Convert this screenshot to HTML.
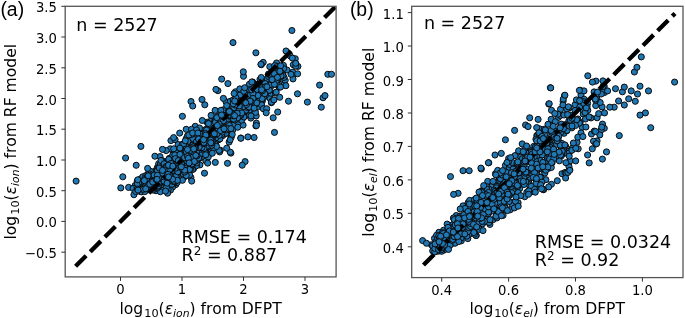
<!DOCTYPE html><html><head><meta charset="utf-8"><title>Figure</title><style>html,body{margin:0;padding:0;background:#fff}svg{display:block;will-change:transform}</style></head><body><svg width="685" height="318" viewBox="0 0 685 318">
<defs><clipPath id="ca"><rect x="65.2" y="6.3" width="270.9" height="270.6"/></clipPath><clipPath id="cb"><rect x="411.7" y="6.3" width="271.3" height="271.3"/></clipPath></defs>
<rect width="685" height="318" fill="#fff"/>
<g clip-path="url(#ca)" fill="#1f77b4" stroke="#0b0b0b" stroke-width="1.0">
<circle cx="243.0" cy="117.9" r="3.05"/>
<circle cx="193.5" cy="152.1" r="3.05"/>
<circle cx="197.6" cy="151.7" r="3.05"/>
<circle cx="166.2" cy="173.9" r="3.05"/>
<circle cx="185.3" cy="152.8" r="3.05"/>
<circle cx="193.1" cy="143.2" r="3.05"/>
<circle cx="202.7" cy="139.0" r="3.05"/>
<circle cx="176.9" cy="175.3" r="3.05"/>
<circle cx="156.1" cy="184.4" r="3.05"/>
<circle cx="189.3" cy="159.3" r="3.05"/>
<circle cx="219.2" cy="135.1" r="3.05"/>
<circle cx="162.8" cy="169.8" r="3.05"/>
<circle cx="198.0" cy="129.7" r="3.05"/>
<circle cx="175.5" cy="158.2" r="3.05"/>
<circle cx="168.8" cy="176.0" r="3.05"/>
<circle cx="155.7" cy="176.1" r="3.05"/>
<circle cx="155.8" cy="179.5" r="3.05"/>
<circle cx="200.3" cy="135.7" r="3.05"/>
<circle cx="216.1" cy="125.5" r="3.05"/>
<circle cx="173.2" cy="172.9" r="3.05"/>
<circle cx="165.8" cy="178.5" r="3.05"/>
<circle cx="161.8" cy="177.3" r="3.05"/>
<circle cx="211.6" cy="132.7" r="3.05"/>
<circle cx="195.4" cy="156.9" r="3.05"/>
<circle cx="175.4" cy="157.8" r="3.05"/>
<circle cx="205.5" cy="144.0" r="3.05"/>
<circle cx="192.7" cy="160.7" r="3.05"/>
<circle cx="191.2" cy="155.7" r="3.05"/>
<circle cx="169.4" cy="166.0" r="3.05"/>
<circle cx="144.0" cy="180.6" r="3.05"/>
<circle cx="185.6" cy="158.9" r="3.05"/>
<circle cx="196.7" cy="148.1" r="3.05"/>
<circle cx="176.5" cy="149.1" r="3.05"/>
<circle cx="154.8" cy="180.5" r="3.05"/>
<circle cx="211.6" cy="135.1" r="3.05"/>
<circle cx="222.9" cy="110.8" r="3.05"/>
<circle cx="192.0" cy="149.6" r="3.05"/>
<circle cx="213.8" cy="136.3" r="3.05"/>
<circle cx="133.9" cy="194.7" r="3.05"/>
<circle cx="137.9" cy="183.0" r="3.05"/>
<circle cx="198.0" cy="152.1" r="3.05"/>
<circle cx="179.2" cy="167.4" r="3.05"/>
<circle cx="156.7" cy="189.1" r="3.05"/>
<circle cx="155.5" cy="173.8" r="3.05"/>
<circle cx="255.3" cy="94.3" r="3.05"/>
<circle cx="203.7" cy="148.8" r="3.05"/>
<circle cx="191.0" cy="161.2" r="3.05"/>
<circle cx="183.5" cy="163.0" r="3.05"/>
<circle cx="170.7" cy="175.2" r="3.05"/>
<circle cx="204.3" cy="143.9" r="3.05"/>
<circle cx="207.4" cy="138.1" r="3.05"/>
<circle cx="193.0" cy="161.7" r="3.05"/>
<circle cx="210.0" cy="132.5" r="3.05"/>
<circle cx="158.0" cy="180.6" r="3.05"/>
<circle cx="173.0" cy="168.9" r="3.05"/>
<circle cx="212.9" cy="148.6" r="3.05"/>
<circle cx="209.2" cy="144.0" r="3.05"/>
<circle cx="238.1" cy="104.8" r="3.05"/>
<circle cx="180.6" cy="160.3" r="3.05"/>
<circle cx="190.1" cy="144.9" r="3.05"/>
<circle cx="143.8" cy="181.0" r="3.05"/>
<circle cx="205.6" cy="152.0" r="3.05"/>
<circle cx="270.0" cy="98.4" r="3.05"/>
<circle cx="255.6" cy="84.3" r="3.05"/>
<circle cx="246.9" cy="102.2" r="3.05"/>
<circle cx="159.3" cy="175.0" r="3.05"/>
<circle cx="178.3" cy="150.2" r="3.05"/>
<circle cx="179.1" cy="166.2" r="3.05"/>
<circle cx="223.0" cy="122.1" r="3.05"/>
<circle cx="240.3" cy="118.3" r="3.05"/>
<circle cx="194.5" cy="140.9" r="3.05"/>
<circle cx="274.5" cy="132.4" r="3.05"/>
<circle cx="161.5" cy="175.6" r="3.05"/>
<circle cx="234.4" cy="116.7" r="3.05"/>
<circle cx="168.3" cy="181.6" r="3.05"/>
<circle cx="214.3" cy="132.4" r="3.05"/>
<circle cx="209.8" cy="138.7" r="3.05"/>
<circle cx="183.1" cy="160.9" r="3.05"/>
<circle cx="199.1" cy="145.2" r="3.05"/>
<circle cx="173.2" cy="170.6" r="3.05"/>
<circle cx="239.7" cy="112.6" r="3.05"/>
<circle cx="265.3" cy="95.4" r="3.05"/>
<circle cx="182.2" cy="159.2" r="3.05"/>
<circle cx="157.6" cy="167.1" r="3.05"/>
<circle cx="161.7" cy="166.8" r="3.05"/>
<circle cx="181.2" cy="152.5" r="3.05"/>
<circle cx="179.0" cy="166.9" r="3.05"/>
<circle cx="272.2" cy="92.9" r="3.05"/>
<circle cx="162.3" cy="172.6" r="3.05"/>
<circle cx="175.2" cy="151.7" r="3.05"/>
<circle cx="177.8" cy="166.8" r="3.05"/>
<circle cx="199.7" cy="143.4" r="3.05"/>
<circle cx="153.2" cy="178.7" r="3.05"/>
<circle cx="297.9" cy="66.4" r="3.05"/>
<circle cx="176.4" cy="173.0" r="3.05"/>
<circle cx="277.6" cy="80.0" r="3.05"/>
<circle cx="158.4" cy="177.9" r="3.05"/>
<circle cx="213.1" cy="145.0" r="3.05"/>
<circle cx="213.0" cy="136.3" r="3.05"/>
<circle cx="248.0" cy="100.5" r="3.05"/>
<circle cx="231.2" cy="137.3" r="3.05"/>
<circle cx="176.3" cy="169.0" r="3.05"/>
<circle cx="188.9" cy="157.5" r="3.05"/>
<circle cx="171.7" cy="165.9" r="3.05"/>
<circle cx="212.0" cy="141.6" r="3.05"/>
<circle cx="193.3" cy="148.1" r="3.05"/>
<circle cx="281.2" cy="84.6" r="3.05"/>
<circle cx="207.3" cy="150.2" r="3.05"/>
<circle cx="323.0" cy="97.8" r="3.05"/>
<circle cx="175.5" cy="164.4" r="3.05"/>
<circle cx="154.4" cy="178.7" r="3.05"/>
<circle cx="175.8" cy="184.6" r="3.05"/>
<circle cx="76.1" cy="181.1" r="3.05"/>
<circle cx="137.3" cy="180.9" r="3.05"/>
<circle cx="153.9" cy="183.3" r="3.05"/>
<circle cx="140.5" cy="182.4" r="3.05"/>
<circle cx="170.4" cy="174.6" r="3.05"/>
<circle cx="223.9" cy="117.6" r="3.05"/>
<circle cx="154.1" cy="176.3" r="3.05"/>
<circle cx="175.1" cy="164.3" r="3.05"/>
<circle cx="184.1" cy="164.8" r="3.05"/>
<circle cx="180.7" cy="164.5" r="3.05"/>
<circle cx="203.2" cy="144.1" r="3.05"/>
<circle cx="185.6" cy="153.7" r="3.05"/>
<circle cx="283.4" cy="66.5" r="3.05"/>
<circle cx="189.4" cy="156.7" r="3.05"/>
<circle cx="327.8" cy="74.3" r="3.05"/>
<circle cx="218.6" cy="139.6" r="3.05"/>
<circle cx="167.8" cy="168.1" r="3.05"/>
<circle cx="173.4" cy="175.7" r="3.05"/>
<circle cx="225.4" cy="116.1" r="3.05"/>
<circle cx="260.3" cy="91.6" r="3.05"/>
<circle cx="166.1" cy="170.8" r="3.05"/>
<circle cx="243.3" cy="117.2" r="3.05"/>
<circle cx="270.8" cy="86.5" r="3.05"/>
<circle cx="179.8" cy="163.6" r="3.05"/>
<circle cx="165.7" cy="169.2" r="3.05"/>
<circle cx="162.5" cy="172.9" r="3.05"/>
<circle cx="231.4" cy="117.2" r="3.05"/>
<circle cx="204.3" cy="140.6" r="3.05"/>
<circle cx="237.7" cy="115.2" r="3.05"/>
<circle cx="140.8" cy="178.7" r="3.05"/>
<circle cx="173.5" cy="157.6" r="3.05"/>
<circle cx="256.2" cy="115.9" r="3.05"/>
<circle cx="181.7" cy="163.3" r="3.05"/>
<circle cx="214.2" cy="124.4" r="3.05"/>
<circle cx="234.6" cy="121.4" r="3.05"/>
<circle cx="230.7" cy="109.4" r="3.05"/>
<circle cx="168.4" cy="164.0" r="3.05"/>
<circle cx="232.6" cy="128.8" r="3.05"/>
<circle cx="237.3" cy="109.5" r="3.05"/>
<circle cx="186.3" cy="138.5" r="3.05"/>
<circle cx="187.3" cy="164.4" r="3.05"/>
<circle cx="226.0" cy="101.7" r="3.05"/>
<circle cx="174.1" cy="166.2" r="3.05"/>
<circle cx="169.6" cy="179.4" r="3.05"/>
<circle cx="177.4" cy="163.4" r="3.05"/>
<circle cx="198.5" cy="144.9" r="3.05"/>
<circle cx="233.5" cy="112.7" r="3.05"/>
<circle cx="141.3" cy="191.9" r="3.05"/>
<circle cx="177.3" cy="179.2" r="3.05"/>
<circle cx="272.2" cy="101.0" r="3.05"/>
<circle cx="208.8" cy="135.9" r="3.05"/>
<circle cx="177.7" cy="164.7" r="3.05"/>
<circle cx="252.7" cy="82.0" r="3.05"/>
<circle cx="215.6" cy="133.1" r="3.05"/>
<circle cx="128.6" cy="187.4" r="3.05"/>
<circle cx="217.9" cy="140.1" r="3.05"/>
<circle cx="169.1" cy="160.6" r="3.05"/>
<circle cx="159.8" cy="173.6" r="3.05"/>
<circle cx="156.0" cy="190.7" r="3.05"/>
<circle cx="221.2" cy="123.2" r="3.05"/>
<circle cx="279.2" cy="87.2" r="3.05"/>
<circle cx="182.8" cy="158.3" r="3.05"/>
<circle cx="262.0" cy="91.3" r="3.05"/>
<circle cx="172.9" cy="159.2" r="3.05"/>
<circle cx="164.1" cy="179.6" r="3.05"/>
<circle cx="195.4" cy="147.1" r="3.05"/>
<circle cx="216.2" cy="125.7" r="3.05"/>
<circle cx="214.7" cy="128.6" r="3.05"/>
<circle cx="167.9" cy="170.9" r="3.05"/>
<circle cx="163.5" cy="174.0" r="3.05"/>
<circle cx="163.9" cy="171.4" r="3.05"/>
<circle cx="203.3" cy="146.0" r="3.05"/>
<circle cx="162.3" cy="172.5" r="3.05"/>
<circle cx="185.0" cy="154.6" r="3.05"/>
<circle cx="186.4" cy="160.3" r="3.05"/>
<circle cx="186.2" cy="129.3" r="3.05"/>
<circle cx="206.4" cy="136.9" r="3.05"/>
<circle cx="168.1" cy="173.8" r="3.05"/>
<circle cx="288.5" cy="101.2" r="3.05"/>
<circle cx="224.6" cy="124.6" r="3.05"/>
<circle cx="170.9" cy="140.6" r="3.05"/>
<circle cx="153.8" cy="179.9" r="3.05"/>
<circle cx="176.0" cy="179.0" r="3.05"/>
<circle cx="179.4" cy="170.4" r="3.05"/>
<circle cx="171.0" cy="172.2" r="3.05"/>
<circle cx="183.3" cy="162.3" r="3.05"/>
<circle cx="225.3" cy="132.1" r="3.05"/>
<circle cx="221.1" cy="122.1" r="3.05"/>
<circle cx="148.6" cy="184.7" r="3.05"/>
<circle cx="175.7" cy="182.8" r="3.05"/>
<circle cx="159.1" cy="174.3" r="3.05"/>
<circle cx="196.9" cy="147.8" r="3.05"/>
<circle cx="229.4" cy="115.0" r="3.05"/>
<circle cx="181.0" cy="164.1" r="3.05"/>
<circle cx="155.6" cy="177.3" r="3.05"/>
<circle cx="229.8" cy="119.1" r="3.05"/>
<circle cx="199.9" cy="164.9" r="3.05"/>
<circle cx="184.2" cy="158.4" r="3.05"/>
<circle cx="248.2" cy="105.2" r="3.05"/>
<circle cx="237.3" cy="113.3" r="3.05"/>
<circle cx="207.7" cy="133.8" r="3.05"/>
<circle cx="226.3" cy="133.4" r="3.05"/>
<circle cx="207.5" cy="133.9" r="3.05"/>
<circle cx="166.9" cy="167.8" r="3.05"/>
<circle cx="166.3" cy="168.0" r="3.05"/>
<circle cx="122.8" cy="176.8" r="3.05"/>
<circle cx="212.4" cy="134.9" r="3.05"/>
<circle cx="247.3" cy="98.9" r="3.05"/>
<circle cx="206.5" cy="138.0" r="3.05"/>
<circle cx="174.9" cy="162.8" r="3.05"/>
<circle cx="199.6" cy="151.7" r="3.05"/>
<circle cx="210.1" cy="137.9" r="3.05"/>
<circle cx="198.4" cy="147.9" r="3.05"/>
<circle cx="172.3" cy="159.5" r="3.05"/>
<circle cx="167.6" cy="163.3" r="3.05"/>
<circle cx="187.0" cy="161.0" r="3.05"/>
<circle cx="189.6" cy="162.6" r="3.05"/>
<circle cx="220.7" cy="132.6" r="3.05"/>
<circle cx="198.0" cy="151.9" r="3.05"/>
<circle cx="235.8" cy="98.5" r="3.05"/>
<circle cx="211.1" cy="120.7" r="3.05"/>
<circle cx="175.4" cy="160.3" r="3.05"/>
<circle cx="206.8" cy="138.7" r="3.05"/>
<circle cx="252.9" cy="100.7" r="3.05"/>
<circle cx="169.3" cy="181.6" r="3.05"/>
<circle cx="179.1" cy="167.0" r="3.05"/>
<circle cx="239.0" cy="95.8" r="3.05"/>
<circle cx="227.5" cy="111.5" r="3.05"/>
<circle cx="181.9" cy="173.2" r="3.05"/>
<circle cx="154.9" cy="177.4" r="3.05"/>
<circle cx="204.8" cy="104.8" r="3.05"/>
<circle cx="182.8" cy="166.3" r="3.05"/>
<circle cx="174.3" cy="170.6" r="3.05"/>
<circle cx="181.1" cy="151.3" r="3.05"/>
<circle cx="135.1" cy="185.5" r="3.05"/>
<circle cx="210.9" cy="137.9" r="3.05"/>
<circle cx="144.0" cy="179.6" r="3.05"/>
<circle cx="164.1" cy="170.5" r="3.05"/>
<circle cx="171.1" cy="167.6" r="3.05"/>
<circle cx="198.5" cy="141.7" r="3.05"/>
<circle cx="233.4" cy="112.3" r="3.05"/>
<circle cx="174.4" cy="160.9" r="3.05"/>
<circle cx="250.4" cy="106.0" r="3.05"/>
<circle cx="138.4" cy="181.9" r="3.05"/>
<circle cx="220.3" cy="150.2" r="3.05"/>
<circle cx="190.0" cy="154.0" r="3.05"/>
<circle cx="205.8" cy="145.7" r="3.05"/>
<circle cx="186.7" cy="155.3" r="3.05"/>
<circle cx="169.7" cy="165.2" r="3.05"/>
<circle cx="158.0" cy="179.7" r="3.05"/>
<circle cx="266.2" cy="84.9" r="3.05"/>
<circle cx="213.0" cy="128.4" r="3.05"/>
<circle cx="254.0" cy="109.0" r="3.05"/>
<circle cx="209.1" cy="130.5" r="3.05"/>
<circle cx="162.9" cy="172.5" r="3.05"/>
<circle cx="192.7" cy="146.6" r="3.05"/>
<circle cx="169.8" cy="162.8" r="3.05"/>
<circle cx="270.1" cy="84.9" r="3.05"/>
<circle cx="172.6" cy="187.1" r="3.05"/>
<circle cx="230.2" cy="121.5" r="3.05"/>
<circle cx="165.1" cy="178.6" r="3.05"/>
<circle cx="251.2" cy="100.0" r="3.05"/>
<circle cx="277.7" cy="112.0" r="3.05"/>
<circle cx="192.8" cy="153.3" r="3.05"/>
<circle cx="169.9" cy="164.6" r="3.05"/>
<circle cx="234.8" cy="109.1" r="3.05"/>
<circle cx="180.4" cy="164.6" r="3.05"/>
<circle cx="204.8" cy="145.3" r="3.05"/>
<circle cx="151.7" cy="176.9" r="3.05"/>
<circle cx="180.7" cy="156.6" r="3.05"/>
<circle cx="188.0" cy="163.5" r="3.05"/>
<circle cx="215.3" cy="131.9" r="3.05"/>
<circle cx="236.1" cy="105.8" r="3.05"/>
<circle cx="204.0" cy="139.3" r="3.05"/>
<circle cx="242.9" cy="100.2" r="3.05"/>
<circle cx="150.6" cy="181.7" r="3.05"/>
<circle cx="292.9" cy="75.7" r="3.05"/>
<circle cx="169.2" cy="176.8" r="3.05"/>
<circle cx="197.8" cy="146.4" r="3.05"/>
<circle cx="184.6" cy="154.5" r="3.05"/>
<circle cx="169.5" cy="173.4" r="3.05"/>
<circle cx="184.7" cy="164.7" r="3.05"/>
<circle cx="180.2" cy="158.3" r="3.05"/>
<circle cx="161.8" cy="177.3" r="3.05"/>
<circle cx="187.5" cy="150.5" r="3.05"/>
<circle cx="203.6" cy="141.2" r="3.05"/>
<circle cx="214.7" cy="124.6" r="3.05"/>
<circle cx="191.2" cy="148.8" r="3.05"/>
<circle cx="293.0" cy="78.9" r="3.05"/>
<circle cx="157.4" cy="185.0" r="3.05"/>
<circle cx="214.7" cy="125.6" r="3.05"/>
<circle cx="172.2" cy="170.2" r="3.05"/>
<circle cx="215.0" cy="135.1" r="3.05"/>
<circle cx="243.0" cy="101.4" r="3.05"/>
<circle cx="177.1" cy="162.9" r="3.05"/>
<circle cx="184.2" cy="150.0" r="3.05"/>
<circle cx="282.7" cy="74.3" r="3.05"/>
<circle cx="210.0" cy="138.1" r="3.05"/>
<circle cx="209.2" cy="143.0" r="3.05"/>
<circle cx="178.5" cy="169.7" r="3.05"/>
<circle cx="202.8" cy="147.8" r="3.05"/>
<circle cx="139.5" cy="187.8" r="3.05"/>
<circle cx="210.8" cy="130.7" r="3.05"/>
<circle cx="233.4" cy="108.7" r="3.05"/>
<circle cx="180.1" cy="174.3" r="3.05"/>
<circle cx="173.2" cy="168.7" r="3.05"/>
<circle cx="202.0" cy="99.5" r="3.05"/>
<circle cx="227.4" cy="123.8" r="3.05"/>
<circle cx="186.0" cy="148.8" r="3.05"/>
<circle cx="226.3" cy="119.4" r="3.05"/>
<circle cx="184.8" cy="168.8" r="3.05"/>
<circle cx="192.9" cy="149.8" r="3.05"/>
<circle cx="156.5" cy="176.5" r="3.05"/>
<circle cx="232.6" cy="119.6" r="3.05"/>
<circle cx="178.0" cy="154.5" r="3.05"/>
<circle cx="265.1" cy="80.2" r="3.05"/>
<circle cx="193.4" cy="154.0" r="3.05"/>
<circle cx="247.5" cy="97.2" r="3.05"/>
<circle cx="219.4" cy="126.2" r="3.05"/>
<circle cx="198.3" cy="150.7" r="3.05"/>
<circle cx="150.4" cy="182.2" r="3.05"/>
<circle cx="155.9" cy="176.0" r="3.05"/>
<circle cx="172.6" cy="150.5" r="3.05"/>
<circle cx="184.4" cy="159.6" r="3.05"/>
<circle cx="149.3" cy="171.0" r="3.05"/>
<circle cx="164.5" cy="173.7" r="3.05"/>
<circle cx="163.8" cy="164.6" r="3.05"/>
<circle cx="164.7" cy="170.6" r="3.05"/>
<circle cx="234.3" cy="122.1" r="3.05"/>
<circle cx="276.6" cy="63.0" r="3.05"/>
<circle cx="185.3" cy="159.2" r="3.05"/>
<circle cx="218.6" cy="126.6" r="3.05"/>
<circle cx="175.1" cy="139.6" r="3.05"/>
<circle cx="182.0" cy="163.3" r="3.05"/>
<circle cx="252.9" cy="101.1" r="3.05"/>
<circle cx="270.9" cy="93.3" r="3.05"/>
<circle cx="179.0" cy="166.1" r="3.05"/>
<circle cx="219.3" cy="129.6" r="3.05"/>
<circle cx="198.5" cy="142.0" r="3.05"/>
<circle cx="243.1" cy="125.1" r="3.05"/>
<circle cx="160.0" cy="156.6" r="3.05"/>
<circle cx="164.6" cy="184.6" r="3.05"/>
<circle cx="152.9" cy="183.6" r="3.05"/>
<circle cx="220.7" cy="125.0" r="3.05"/>
<circle cx="161.4" cy="175.3" r="3.05"/>
<circle cx="239.0" cy="109.2" r="3.05"/>
<circle cx="152.2" cy="187.1" r="3.05"/>
<circle cx="201.2" cy="145.7" r="3.05"/>
<circle cx="139.3" cy="184.7" r="3.05"/>
<circle cx="189.8" cy="154.2" r="3.05"/>
<circle cx="208.6" cy="152.5" r="3.05"/>
<circle cx="177.8" cy="160.1" r="3.05"/>
<circle cx="164.4" cy="176.1" r="3.05"/>
<circle cx="235.2" cy="123.4" r="3.05"/>
<circle cx="192.2" cy="152.3" r="3.05"/>
<circle cx="253.4" cy="106.1" r="3.05"/>
<circle cx="205.0" cy="153.7" r="3.05"/>
<circle cx="183.9" cy="167.1" r="3.05"/>
<circle cx="207.0" cy="133.0" r="3.05"/>
<circle cx="170.7" cy="174.1" r="3.05"/>
<circle cx="174.2" cy="172.9" r="3.05"/>
<circle cx="238.4" cy="110.1" r="3.05"/>
<circle cx="201.7" cy="145.7" r="3.05"/>
<circle cx="251.8" cy="104.9" r="3.05"/>
<circle cx="180.6" cy="161.3" r="3.05"/>
<circle cx="184.5" cy="176.8" r="3.05"/>
<circle cx="243.0" cy="102.6" r="3.05"/>
<circle cx="183.0" cy="152.2" r="3.05"/>
<circle cx="264.4" cy="83.7" r="3.05"/>
<circle cx="185.1" cy="156.2" r="3.05"/>
<circle cx="204.7" cy="148.1" r="3.05"/>
<circle cx="197.5" cy="145.0" r="3.05"/>
<circle cx="215.0" cy="121.9" r="3.05"/>
<circle cx="173.1" cy="161.2" r="3.05"/>
<circle cx="151.9" cy="183.2" r="3.05"/>
<circle cx="211.5" cy="138.3" r="3.05"/>
<circle cx="161.2" cy="179.8" r="3.05"/>
<circle cx="271.4" cy="102.7" r="3.05"/>
<circle cx="183.0" cy="167.5" r="3.05"/>
<circle cx="226.6" cy="127.6" r="3.05"/>
<circle cx="234.5" cy="110.2" r="3.05"/>
<circle cx="188.5" cy="159.9" r="3.05"/>
<circle cx="188.2" cy="161.5" r="3.05"/>
<circle cx="160.8" cy="174.8" r="3.05"/>
<circle cx="193.5" cy="168.8" r="3.05"/>
<circle cx="202.9" cy="148.9" r="3.05"/>
<circle cx="232.1" cy="113.9" r="3.05"/>
<circle cx="161.1" cy="183.2" r="3.05"/>
<circle cx="284.0" cy="84.9" r="3.05"/>
<circle cx="165.6" cy="181.5" r="3.05"/>
<circle cx="232.6" cy="122.1" r="3.05"/>
<circle cx="190.9" cy="177.5" r="3.05"/>
<circle cx="177.5" cy="172.4" r="3.05"/>
<circle cx="190.2" cy="153.6" r="3.05"/>
<circle cx="146.5" cy="178.3" r="3.05"/>
<circle cx="157.9" cy="173.6" r="3.05"/>
<circle cx="234.0" cy="109.2" r="3.05"/>
<circle cx="159.0" cy="172.8" r="3.05"/>
<circle cx="179.3" cy="163.4" r="3.05"/>
<circle cx="233.7" cy="111.0" r="3.05"/>
<circle cx="176.3" cy="172.2" r="3.05"/>
<circle cx="195.2" cy="147.0" r="3.05"/>
<circle cx="236.3" cy="125.7" r="3.05"/>
<circle cx="176.5" cy="167.5" r="3.05"/>
<circle cx="192.7" cy="161.0" r="3.05"/>
<circle cx="166.7" cy="165.9" r="3.05"/>
<circle cx="152.5" cy="179.3" r="3.05"/>
<circle cx="204.5" cy="173.2" r="3.05"/>
<circle cx="163.7" cy="174.9" r="3.05"/>
<circle cx="263.2" cy="62.4" r="3.05"/>
<circle cx="215.1" cy="146.0" r="3.05"/>
<circle cx="214.9" cy="124.8" r="3.05"/>
<circle cx="207.8" cy="138.1" r="3.05"/>
<circle cx="197.6" cy="146.0" r="3.05"/>
<circle cx="174.1" cy="180.9" r="3.05"/>
<circle cx="196.4" cy="149.2" r="3.05"/>
<circle cx="182.2" cy="169.6" r="3.05"/>
<circle cx="191.8" cy="158.7" r="3.05"/>
<circle cx="175.0" cy="169.9" r="3.05"/>
<circle cx="250.8" cy="106.9" r="3.05"/>
<circle cx="225.4" cy="125.6" r="3.05"/>
<circle cx="183.3" cy="167.6" r="3.05"/>
<circle cx="203.9" cy="139.1" r="3.05"/>
<circle cx="160.5" cy="177.6" r="3.05"/>
<circle cx="169.4" cy="163.6" r="3.05"/>
<circle cx="207.3" cy="133.7" r="3.05"/>
<circle cx="210.0" cy="142.8" r="3.05"/>
<circle cx="211.0" cy="132.4" r="3.05"/>
<circle cx="254.5" cy="104.0" r="3.05"/>
<circle cx="179.9" cy="165.0" r="3.05"/>
<circle cx="217.6" cy="130.0" r="3.05"/>
<circle cx="189.8" cy="159.5" r="3.05"/>
<circle cx="188.5" cy="149.0" r="3.05"/>
<circle cx="179.5" cy="160.2" r="3.05"/>
<circle cx="321.3" cy="107.2" r="3.05"/>
<circle cx="175.7" cy="164.4" r="3.05"/>
<circle cx="184.9" cy="159.8" r="3.05"/>
<circle cx="169.6" cy="164.0" r="3.05"/>
<circle cx="231.4" cy="124.0" r="3.05"/>
<circle cx="184.9" cy="152.1" r="3.05"/>
<circle cx="192.5" cy="147.9" r="3.05"/>
<circle cx="190.0" cy="163.6" r="3.05"/>
<circle cx="196.0" cy="148.5" r="3.05"/>
<circle cx="175.3" cy="161.8" r="3.05"/>
<circle cx="182.4" cy="157.8" r="3.05"/>
<circle cx="175.3" cy="172.2" r="3.05"/>
<circle cx="171.6" cy="169.2" r="3.05"/>
<circle cx="226.7" cy="128.7" r="3.05"/>
<circle cx="227.2" cy="119.3" r="3.05"/>
<circle cx="219.4" cy="119.8" r="3.05"/>
<circle cx="173.4" cy="162.0" r="3.05"/>
<circle cx="262.3" cy="101.3" r="3.05"/>
<circle cx="240.9" cy="91.2" r="3.05"/>
<circle cx="263.6" cy="95.9" r="3.05"/>
<circle cx="158.4" cy="171.5" r="3.05"/>
<circle cx="225.1" cy="121.0" r="3.05"/>
<circle cx="173.6" cy="161.7" r="3.05"/>
<circle cx="163.1" cy="178.2" r="3.05"/>
<circle cx="244.0" cy="112.8" r="3.05"/>
<circle cx="187.9" cy="156.9" r="3.05"/>
<circle cx="285.2" cy="80.3" r="3.05"/>
<circle cx="178.9" cy="166.9" r="3.05"/>
<circle cx="176.2" cy="166.4" r="3.05"/>
<circle cx="227.6" cy="118.0" r="3.05"/>
<circle cx="175.4" cy="161.3" r="3.05"/>
<circle cx="157.7" cy="172.8" r="3.05"/>
<circle cx="158.4" cy="176.3" r="3.05"/>
<circle cx="205.9" cy="129.4" r="3.05"/>
<circle cx="210.7" cy="139.6" r="3.05"/>
<circle cx="158.1" cy="178.3" r="3.05"/>
<circle cx="158.0" cy="176.9" r="3.05"/>
<circle cx="252.5" cy="97.2" r="3.05"/>
<circle cx="174.7" cy="162.3" r="3.05"/>
<circle cx="191.9" cy="162.8" r="3.05"/>
<circle cx="192.7" cy="153.0" r="3.05"/>
<circle cx="183.9" cy="157.6" r="3.05"/>
<circle cx="152.1" cy="173.9" r="3.05"/>
<circle cx="239.5" cy="106.5" r="3.05"/>
<circle cx="197.8" cy="151.0" r="3.05"/>
<circle cx="152.5" cy="186.4" r="3.05"/>
<circle cx="185.3" cy="155.0" r="3.05"/>
<circle cx="173.5" cy="172.1" r="3.05"/>
<circle cx="167.1" cy="172.3" r="3.05"/>
<circle cx="190.7" cy="156.2" r="3.05"/>
<circle cx="181.3" cy="178.5" r="3.05"/>
<circle cx="179.7" cy="165.2" r="3.05"/>
<circle cx="191.5" cy="143.7" r="3.05"/>
<circle cx="191.9" cy="147.0" r="3.05"/>
<circle cx="164.0" cy="176.0" r="3.05"/>
<circle cx="169.0" cy="176.1" r="3.05"/>
<circle cx="162.2" cy="160.6" r="3.05"/>
<circle cx="256.1" cy="96.1" r="3.05"/>
<circle cx="292.7" cy="72.1" r="3.05"/>
<circle cx="167.2" cy="173.2" r="3.05"/>
<circle cx="226.4" cy="121.5" r="3.05"/>
<circle cx="232.2" cy="105.0" r="3.05"/>
<circle cx="290.2" cy="55.9" r="3.05"/>
<circle cx="155.2" cy="188.2" r="3.05"/>
<circle cx="297.5" cy="93.8" r="3.05"/>
<circle cx="226.4" cy="126.1" r="3.05"/>
<circle cx="174.9" cy="166.7" r="3.05"/>
<circle cx="268.9" cy="81.6" r="3.05"/>
<circle cx="201.8" cy="140.3" r="3.05"/>
<circle cx="196.5" cy="165.7" r="3.05"/>
<circle cx="150.6" cy="178.5" r="3.05"/>
<circle cx="185.0" cy="160.3" r="3.05"/>
<circle cx="173.6" cy="159.6" r="3.05"/>
<circle cx="267.2" cy="78.7" r="3.05"/>
<circle cx="165.7" cy="166.3" r="3.05"/>
<circle cx="223.6" cy="118.4" r="3.05"/>
<circle cx="213.1" cy="124.0" r="3.05"/>
<circle cx="193.8" cy="154.1" r="3.05"/>
<circle cx="144.8" cy="191.6" r="3.05"/>
<circle cx="205.9" cy="150.4" r="3.05"/>
<circle cx="152.5" cy="177.4" r="3.05"/>
<circle cx="183.4" cy="164.5" r="3.05"/>
<circle cx="158.0" cy="174.6" r="3.05"/>
<circle cx="197.1" cy="142.1" r="3.05"/>
<circle cx="185.4" cy="158.1" r="3.05"/>
<circle cx="281.4" cy="66.0" r="3.05"/>
<circle cx="181.0" cy="155.0" r="3.05"/>
<circle cx="209.6" cy="153.5" r="3.05"/>
<circle cx="211.1" cy="132.8" r="3.05"/>
<circle cx="197.9" cy="141.4" r="3.05"/>
<circle cx="156.0" cy="176.0" r="3.05"/>
<circle cx="163.6" cy="176.2" r="3.05"/>
<circle cx="179.8" cy="174.2" r="3.05"/>
<circle cx="206.7" cy="138.8" r="3.05"/>
<circle cx="191.0" cy="101.5" r="3.05"/>
<circle cx="263.6" cy="97.7" r="3.05"/>
<circle cx="192.7" cy="169.2" r="3.05"/>
<circle cx="235.5" cy="91.8" r="3.05"/>
<circle cx="209.7" cy="152.6" r="3.05"/>
<circle cx="171.5" cy="167.3" r="3.05"/>
<circle cx="199.1" cy="145.0" r="3.05"/>
<circle cx="215.9" cy="145.2" r="3.05"/>
<circle cx="161.8" cy="175.2" r="3.05"/>
<circle cx="195.3" cy="126.3" r="3.05"/>
<circle cx="189.6" cy="161.5" r="3.05"/>
<circle cx="189.0" cy="150.5" r="3.05"/>
<circle cx="192.2" cy="160.0" r="3.05"/>
<circle cx="195.6" cy="147.3" r="3.05"/>
<circle cx="160.6" cy="182.2" r="3.05"/>
<circle cx="225.1" cy="121.7" r="3.05"/>
<circle cx="216.3" cy="131.0" r="3.05"/>
<circle cx="195.1" cy="140.6" r="3.05"/>
<circle cx="235.8" cy="100.4" r="3.05"/>
<circle cx="150.3" cy="178.5" r="3.05"/>
<circle cx="168.6" cy="164.7" r="3.05"/>
<circle cx="173.9" cy="181.1" r="3.05"/>
<circle cx="193.3" cy="151.3" r="3.05"/>
<circle cx="229.3" cy="130.3" r="3.05"/>
<circle cx="210.8" cy="134.8" r="3.05"/>
<circle cx="165.8" cy="167.0" r="3.05"/>
<circle cx="162.7" cy="178.1" r="3.05"/>
<circle cx="152.8" cy="182.8" r="3.05"/>
<circle cx="192.9" cy="151.3" r="3.05"/>
<circle cx="234.0" cy="117.9" r="3.05"/>
<circle cx="228.3" cy="115.4" r="3.05"/>
<circle cx="189.0" cy="157.7" r="3.05"/>
<circle cx="160.4" cy="186.6" r="3.05"/>
<circle cx="192.3" cy="148.6" r="3.05"/>
<circle cx="190.2" cy="150.8" r="3.05"/>
<circle cx="206.2" cy="145.3" r="3.05"/>
<circle cx="169.0" cy="179.6" r="3.05"/>
<circle cx="258.7" cy="100.0" r="3.05"/>
<circle cx="191.1" cy="157.3" r="3.05"/>
<circle cx="188.9" cy="165.6" r="3.05"/>
<circle cx="283.4" cy="65.3" r="3.05"/>
<circle cx="200.2" cy="158.0" r="3.05"/>
<circle cx="171.0" cy="166.7" r="3.05"/>
<circle cx="173.6" cy="137.6" r="3.05"/>
<circle cx="208.2" cy="129.8" r="3.05"/>
<circle cx="162.0" cy="174.6" r="3.05"/>
<circle cx="189.6" cy="174.9" r="3.05"/>
<circle cx="198.9" cy="149.3" r="3.05"/>
<circle cx="160.9" cy="172.3" r="3.05"/>
<circle cx="250.8" cy="92.6" r="3.05"/>
<circle cx="183.3" cy="166.4" r="3.05"/>
<circle cx="170.4" cy="171.0" r="3.05"/>
<circle cx="236.5" cy="102.5" r="3.05"/>
<circle cx="186.3" cy="157.9" r="3.05"/>
<circle cx="196.7" cy="162.9" r="3.05"/>
<circle cx="189.0" cy="147.2" r="3.05"/>
<circle cx="231.8" cy="116.0" r="3.05"/>
<circle cx="147.0" cy="177.7" r="3.05"/>
<circle cx="160.0" cy="176.1" r="3.05"/>
<circle cx="156.6" cy="178.0" r="3.05"/>
<circle cx="261.7" cy="99.9" r="3.05"/>
<circle cx="155.4" cy="170.7" r="3.05"/>
<circle cx="156.9" cy="171.4" r="3.05"/>
<circle cx="182.5" cy="157.0" r="3.05"/>
<circle cx="254.4" cy="99.4" r="3.05"/>
<circle cx="189.2" cy="155.6" r="3.05"/>
<circle cx="191.7" cy="181.1" r="3.05"/>
<circle cx="143.5" cy="184.6" r="3.05"/>
<circle cx="208.6" cy="142.2" r="3.05"/>
<circle cx="186.9" cy="149.5" r="3.05"/>
<circle cx="145.2" cy="176.8" r="3.05"/>
<circle cx="149.4" cy="174.9" r="3.05"/>
<circle cx="219.1" cy="130.4" r="3.05"/>
<circle cx="278.8" cy="78.5" r="3.05"/>
<circle cx="235.8" cy="112.4" r="3.05"/>
<circle cx="169.6" cy="173.7" r="3.05"/>
<circle cx="211.2" cy="129.2" r="3.05"/>
<circle cx="185.7" cy="163.7" r="3.05"/>
<circle cx="158.7" cy="181.4" r="3.05"/>
<circle cx="162.6" cy="166.9" r="3.05"/>
<circle cx="200.9" cy="136.6" r="3.05"/>
<circle cx="192.0" cy="168.7" r="3.05"/>
<circle cx="226.4" cy="121.3" r="3.05"/>
<circle cx="120.8" cy="187.9" r="3.05"/>
<circle cx="216.8" cy="117.0" r="3.05"/>
<circle cx="257.2" cy="98.8" r="3.05"/>
<circle cx="170.3" cy="161.9" r="3.05"/>
<circle cx="157.3" cy="179.8" r="3.05"/>
<circle cx="183.8" cy="161.7" r="3.05"/>
<circle cx="145.0" cy="184.3" r="3.05"/>
<circle cx="207.6" cy="144.5" r="3.05"/>
<circle cx="170.3" cy="172.6" r="3.05"/>
<circle cx="216.6" cy="132.1" r="3.05"/>
<circle cx="263.7" cy="89.5" r="3.05"/>
<circle cx="227.9" cy="128.3" r="3.05"/>
<circle cx="171.0" cy="164.9" r="3.05"/>
<circle cx="185.9" cy="155.1" r="3.05"/>
<circle cx="171.2" cy="167.3" r="3.05"/>
<circle cx="331.5" cy="74.3" r="3.05"/>
<circle cx="162.2" cy="178.8" r="3.05"/>
<circle cx="238.4" cy="110.3" r="3.05"/>
<circle cx="257.5" cy="107.1" r="3.05"/>
<circle cx="217.0" cy="125.9" r="3.05"/>
<circle cx="217.9" cy="90.7" r="3.05"/>
<circle cx="156.7" cy="177.9" r="3.05"/>
<circle cx="157.1" cy="183.5" r="3.05"/>
<circle cx="169.1" cy="179.8" r="3.05"/>
<circle cx="151.7" cy="184.8" r="3.05"/>
<circle cx="245.5" cy="100.6" r="3.05"/>
<circle cx="177.0" cy="169.7" r="3.05"/>
<circle cx="156.8" cy="185.8" r="3.05"/>
<circle cx="180.0" cy="165.0" r="3.05"/>
<circle cx="247.3" cy="99.8" r="3.05"/>
<circle cx="195.8" cy="154.0" r="3.05"/>
<circle cx="168.2" cy="178.3" r="3.05"/>
<circle cx="159.9" cy="172.8" r="3.05"/>
<circle cx="200.1" cy="149.4" r="3.05"/>
<circle cx="174.2" cy="170.5" r="3.05"/>
<circle cx="275.5" cy="81.8" r="3.05"/>
<circle cx="164.3" cy="188.5" r="3.05"/>
<circle cx="183.0" cy="164.1" r="3.05"/>
<circle cx="233.0" cy="42.6" r="3.05"/>
<circle cx="163.7" cy="171.7" r="3.05"/>
<circle cx="183.5" cy="145.5" r="3.05"/>
<circle cx="157.8" cy="168.0" r="3.05"/>
<circle cx="159.9" cy="178.8" r="3.05"/>
<circle cx="248.0" cy="108.0" r="3.05"/>
<circle cx="148.5" cy="186.1" r="3.05"/>
<circle cx="175.9" cy="173.2" r="3.05"/>
<circle cx="210.8" cy="139.4" r="3.05"/>
<circle cx="167.3" cy="176.1" r="3.05"/>
<circle cx="153.0" cy="180.7" r="3.05"/>
<circle cx="164.9" cy="165.7" r="3.05"/>
<circle cx="179.3" cy="162.4" r="3.05"/>
<circle cx="192.7" cy="157.5" r="3.05"/>
<circle cx="140.0" cy="188.4" r="3.05"/>
<circle cx="140.9" cy="146.4" r="3.05"/>
<circle cx="137.2" cy="191.3" r="3.05"/>
<circle cx="213.2" cy="129.7" r="3.05"/>
<circle cx="177.8" cy="169.8" r="3.05"/>
<circle cx="153.9" cy="182.7" r="3.05"/>
<circle cx="279.1" cy="72.9" r="3.05"/>
<circle cx="214.7" cy="134.9" r="3.05"/>
<circle cx="189.6" cy="164.2" r="3.05"/>
<circle cx="222.0" cy="132.4" r="3.05"/>
<circle cx="192.0" cy="155.3" r="3.05"/>
<circle cx="202.1" cy="148.6" r="3.05"/>
<circle cx="251.9" cy="102.9" r="3.05"/>
<circle cx="202.9" cy="148.9" r="3.05"/>
<circle cx="211.8" cy="138.1" r="3.05"/>
<circle cx="250.0" cy="96.4" r="3.05"/>
<circle cx="214.1" cy="130.7" r="3.05"/>
<circle cx="248.4" cy="100.0" r="3.05"/>
<circle cx="254.1" cy="137.5" r="3.05"/>
<circle cx="218.1" cy="137.0" r="3.05"/>
<circle cx="275.3" cy="82.9" r="3.05"/>
<circle cx="239.6" cy="107.3" r="3.05"/>
<circle cx="240.9" cy="103.2" r="3.05"/>
<circle cx="202.6" cy="149.9" r="3.05"/>
<circle cx="227.6" cy="111.2" r="3.05"/>
<circle cx="263.4" cy="87.2" r="3.05"/>
<circle cx="168.0" cy="161.8" r="3.05"/>
<circle cx="218.5" cy="126.7" r="3.05"/>
<circle cx="249.0" cy="109.6" r="3.05"/>
<circle cx="229.1" cy="142.1" r="3.05"/>
<circle cx="211.1" cy="139.8" r="3.05"/>
<circle cx="246.1" cy="94.2" r="3.05"/>
<circle cx="230.7" cy="107.5" r="3.05"/>
<circle cx="245.1" cy="161.6" r="3.05"/>
<circle cx="242.2" cy="165.2" r="3.05"/>
<circle cx="204.0" cy="137.3" r="3.05"/>
<circle cx="150.8" cy="184.9" r="3.05"/>
<circle cx="195.8" cy="152.7" r="3.05"/>
<circle cx="175.7" cy="165.8" r="3.05"/>
<circle cx="183.4" cy="155.9" r="3.05"/>
<circle cx="215.1" cy="110.4" r="3.05"/>
<circle cx="174.7" cy="166.1" r="3.05"/>
<circle cx="162.6" cy="175.8" r="3.05"/>
<circle cx="178.2" cy="150.6" r="3.05"/>
<circle cx="238.9" cy="111.5" r="3.05"/>
<circle cx="249.1" cy="110.8" r="3.05"/>
<circle cx="161.9" cy="169.1" r="3.05"/>
<circle cx="165.1" cy="176.5" r="3.05"/>
<circle cx="166.5" cy="166.7" r="3.05"/>
<circle cx="217.0" cy="124.9" r="3.05"/>
<circle cx="183.9" cy="175.1" r="3.05"/>
<circle cx="151.5" cy="184.1" r="3.05"/>
<circle cx="268.5" cy="74.1" r="3.05"/>
<circle cx="216.7" cy="132.5" r="3.05"/>
<circle cx="182.5" cy="161.1" r="3.05"/>
<circle cx="205.0" cy="144.7" r="3.05"/>
<circle cx="166.7" cy="179.6" r="3.05"/>
<circle cx="157.1" cy="179.9" r="3.05"/>
<circle cx="213.1" cy="123.6" r="3.05"/>
<circle cx="172.5" cy="163.6" r="3.05"/>
<circle cx="137.0" cy="186.3" r="3.05"/>
<circle cx="163.1" cy="178.7" r="3.05"/>
<circle cx="188.6" cy="164.6" r="3.05"/>
<circle cx="205.8" cy="141.1" r="3.05"/>
<circle cx="181.6" cy="163.2" r="3.05"/>
<circle cx="176.2" cy="178.6" r="3.05"/>
<circle cx="213.7" cy="135.5" r="3.05"/>
<circle cx="197.3" cy="145.2" r="3.05"/>
<circle cx="185.3" cy="147.4" r="3.05"/>
<circle cx="211.0" cy="132.3" r="3.05"/>
<circle cx="161.7" cy="169.6" r="3.05"/>
<circle cx="169.6" cy="175.7" r="3.05"/>
<circle cx="200.5" cy="144.0" r="3.05"/>
<circle cx="179.4" cy="171.2" r="3.05"/>
<circle cx="186.2" cy="164.6" r="3.05"/>
<circle cx="177.2" cy="170.2" r="3.05"/>
<circle cx="233.4" cy="113.9" r="3.05"/>
<circle cx="177.7" cy="176.6" r="3.05"/>
<circle cx="139.5" cy="181.6" r="3.05"/>
<circle cx="164.8" cy="180.1" r="3.05"/>
<circle cx="179.2" cy="162.8" r="3.05"/>
<circle cx="169.4" cy="158.3" r="3.05"/>
<circle cx="179.0" cy="159.9" r="3.05"/>
<circle cx="211.2" cy="127.3" r="3.05"/>
<circle cx="147.8" cy="178.1" r="3.05"/>
<circle cx="187.2" cy="152.4" r="3.05"/>
<circle cx="209.4" cy="136.2" r="3.05"/>
<circle cx="236.9" cy="106.4" r="3.05"/>
<circle cx="184.3" cy="170.7" r="3.05"/>
<circle cx="182.9" cy="157.8" r="3.05"/>
<circle cx="194.6" cy="159.0" r="3.05"/>
<circle cx="155.9" cy="171.4" r="3.05"/>
<circle cx="216.2" cy="133.5" r="3.05"/>
<circle cx="162.5" cy="170.6" r="3.05"/>
<circle cx="233.5" cy="102.5" r="3.05"/>
<circle cx="184.4" cy="176.0" r="3.05"/>
<circle cx="169.0" cy="176.6" r="3.05"/>
<circle cx="163.3" cy="181.4" r="3.05"/>
<circle cx="188.5" cy="146.1" r="3.05"/>
<circle cx="163.1" cy="169.5" r="3.05"/>
<circle cx="242.2" cy="113.7" r="3.05"/>
<circle cx="191.1" cy="155.1" r="3.05"/>
<circle cx="257.4" cy="93.8" r="3.05"/>
<circle cx="167.6" cy="160.9" r="3.05"/>
<circle cx="222.3" cy="127.7" r="3.05"/>
<circle cx="221.6" cy="132.2" r="3.05"/>
<circle cx="221.3" cy="121.0" r="3.05"/>
<circle cx="210.5" cy="143.4" r="3.05"/>
<circle cx="178.7" cy="162.5" r="3.05"/>
<circle cx="193.8" cy="146.7" r="3.05"/>
<circle cx="206.7" cy="139.5" r="3.05"/>
<circle cx="138.3" cy="182.1" r="3.05"/>
<circle cx="149.9" cy="175.3" r="3.05"/>
<circle cx="190.9" cy="154.3" r="3.05"/>
<circle cx="157.6" cy="170.3" r="3.05"/>
<circle cx="188.2" cy="158.5" r="3.05"/>
<circle cx="202.1" cy="136.8" r="3.05"/>
<circle cx="177.5" cy="161.6" r="3.05"/>
<circle cx="161.7" cy="173.7" r="3.05"/>
<circle cx="202.7" cy="144.4" r="3.05"/>
<circle cx="169.9" cy="162.4" r="3.05"/>
<circle cx="183.6" cy="156.9" r="3.05"/>
<circle cx="205.7" cy="144.2" r="3.05"/>
<circle cx="178.9" cy="162.6" r="3.05"/>
<circle cx="167.0" cy="172.9" r="3.05"/>
<circle cx="162.8" cy="180.9" r="3.05"/>
<circle cx="238.7" cy="106.5" r="3.05"/>
<circle cx="220.8" cy="123.4" r="3.05"/>
<circle cx="156.9" cy="176.3" r="3.05"/>
<circle cx="226.4" cy="126.4" r="3.05"/>
<circle cx="178.2" cy="149.8" r="3.05"/>
<circle cx="153.4" cy="173.0" r="3.05"/>
<circle cx="154.3" cy="185.0" r="3.05"/>
<circle cx="245.9" cy="108.9" r="3.05"/>
<circle cx="219.9" cy="126.3" r="3.05"/>
<circle cx="284.1" cy="77.4" r="3.05"/>
<circle cx="235.5" cy="122.7" r="3.05"/>
<circle cx="237.8" cy="110.1" r="3.05"/>
<circle cx="197.2" cy="136.8" r="3.05"/>
<circle cx="150.2" cy="187.6" r="3.05"/>
<circle cx="182.4" cy="116.3" r="3.05"/>
<circle cx="276.2" cy="66.2" r="3.05"/>
<circle cx="170.8" cy="169.9" r="3.05"/>
<circle cx="223.8" cy="121.3" r="3.05"/>
<circle cx="151.1" cy="179.8" r="3.05"/>
<circle cx="176.7" cy="164.8" r="3.05"/>
<circle cx="208.4" cy="138.3" r="3.05"/>
<circle cx="150.1" cy="186.6" r="3.05"/>
<circle cx="159.8" cy="182.5" r="3.05"/>
<circle cx="163.1" cy="175.3" r="3.05"/>
<circle cx="195.2" cy="141.0" r="3.05"/>
<circle cx="192.1" cy="161.8" r="3.05"/>
<circle cx="209.9" cy="135.1" r="3.05"/>
<circle cx="291.9" cy="30.5" r="3.05"/>
<circle cx="194.7" cy="150.1" r="3.05"/>
<circle cx="269.6" cy="85.3" r="3.05"/>
<circle cx="161.7" cy="175.2" r="3.05"/>
<circle cx="224.3" cy="128.5" r="3.05"/>
<circle cx="192.9" cy="150.7" r="3.05"/>
<circle cx="242.5" cy="100.3" r="3.05"/>
<circle cx="176.1" cy="171.2" r="3.05"/>
<circle cx="238.5" cy="109.2" r="3.05"/>
<circle cx="158.8" cy="175.5" r="3.05"/>
<circle cx="232.1" cy="102.6" r="3.05"/>
<circle cx="275.9" cy="84.4" r="3.05"/>
<circle cx="175.4" cy="164.9" r="3.05"/>
<circle cx="212.1" cy="139.4" r="3.05"/>
<circle cx="236.6" cy="113.2" r="3.05"/>
<circle cx="226.4" cy="120.8" r="3.05"/>
<circle cx="255.9" cy="52.8" r="3.05"/>
<circle cx="176.8" cy="170.0" r="3.05"/>
<circle cx="204.9" cy="141.5" r="3.05"/>
<circle cx="258.8" cy="92.3" r="3.05"/>
<circle cx="189.8" cy="166.7" r="3.05"/>
<circle cx="174.2" cy="167.9" r="3.05"/>
<circle cx="201.1" cy="148.0" r="3.05"/>
<circle cx="159.3" cy="173.0" r="3.05"/>
<circle cx="161.2" cy="170.7" r="3.05"/>
<circle cx="194.1" cy="156.4" r="3.05"/>
<circle cx="222.8" cy="135.6" r="3.05"/>
<circle cx="192.5" cy="159.3" r="3.05"/>
<circle cx="153.0" cy="181.1" r="3.05"/>
<circle cx="240.6" cy="103.4" r="3.05"/>
<circle cx="218.8" cy="127.6" r="3.05"/>
<circle cx="150.6" cy="182.9" r="3.05"/>
<circle cx="154.9" cy="178.4" r="3.05"/>
<circle cx="174.2" cy="162.5" r="3.05"/>
<circle cx="212.7" cy="135.2" r="3.05"/>
<circle cx="165.0" cy="178.1" r="3.05"/>
<circle cx="287.0" cy="70.0" r="3.05"/>
<circle cx="175.3" cy="163.7" r="3.05"/>
<circle cx="222.9" cy="123.8" r="3.05"/>
<circle cx="183.6" cy="154.0" r="3.05"/>
<circle cx="256.4" cy="123.1" r="3.05"/>
<circle cx="153.0" cy="181.7" r="3.05"/>
<circle cx="248.4" cy="89.8" r="3.05"/>
<circle cx="192.4" cy="169.6" r="3.05"/>
<circle cx="187.7" cy="153.8" r="3.05"/>
<circle cx="177.4" cy="166.2" r="3.05"/>
<circle cx="189.5" cy="159.0" r="3.05"/>
<circle cx="180.7" cy="160.2" r="3.05"/>
<circle cx="189.7" cy="161.4" r="3.05"/>
<circle cx="171.6" cy="173.5" r="3.05"/>
<circle cx="176.0" cy="161.0" r="3.05"/>
<circle cx="149.7" cy="179.0" r="3.05"/>
<circle cx="207.6" cy="144.1" r="3.05"/>
<circle cx="178.2" cy="164.8" r="3.05"/>
<circle cx="207.1" cy="122.2" r="3.05"/>
<circle cx="241.2" cy="115.7" r="3.05"/>
<circle cx="207.8" cy="143.7" r="3.05"/>
<circle cx="162.6" cy="167.2" r="3.05"/>
<circle cx="160.3" cy="191.7" r="3.05"/>
<circle cx="260.0" cy="79.4" r="3.05"/>
<circle cx="268.7" cy="90.7" r="3.05"/>
<circle cx="170.5" cy="172.0" r="3.05"/>
<circle cx="202.5" cy="143.0" r="3.05"/>
<circle cx="228.8" cy="126.5" r="3.05"/>
<circle cx="194.0" cy="143.5" r="3.05"/>
<circle cx="174.7" cy="163.1" r="3.05"/>
<circle cx="278.9" cy="72.2" r="3.05"/>
<circle cx="161.4" cy="172.4" r="3.05"/>
<circle cx="189.2" cy="158.1" r="3.05"/>
<circle cx="191.3" cy="153.9" r="3.05"/>
<circle cx="174.1" cy="164.1" r="3.05"/>
<circle cx="192.7" cy="148.0" r="3.05"/>
<circle cx="192.2" cy="152.6" r="3.05"/>
<circle cx="164.7" cy="177.7" r="3.05"/>
<circle cx="168.9" cy="166.9" r="3.05"/>
<circle cx="237.1" cy="120.4" r="3.05"/>
<circle cx="215.4" cy="123.3" r="3.05"/>
<circle cx="212.2" cy="133.2" r="3.05"/>
<circle cx="220.0" cy="134.2" r="3.05"/>
<circle cx="193.2" cy="154.2" r="3.05"/>
<circle cx="175.3" cy="169.7" r="3.05"/>
<circle cx="213.7" cy="148.5" r="3.05"/>
<circle cx="248.1" cy="100.0" r="3.05"/>
<circle cx="165.8" cy="177.1" r="3.05"/>
<circle cx="229.5" cy="114.4" r="3.05"/>
<circle cx="197.0" cy="148.7" r="3.05"/>
<circle cx="232.4" cy="118.5" r="3.05"/>
<circle cx="185.3" cy="153.4" r="3.05"/>
<circle cx="201.8" cy="142.5" r="3.05"/>
<circle cx="214.5" cy="140.1" r="3.05"/>
<circle cx="201.1" cy="139.4" r="3.05"/>
<circle cx="160.5" cy="181.1" r="3.05"/>
<circle cx="169.1" cy="170.7" r="3.05"/>
<circle cx="234.7" cy="115.9" r="3.05"/>
<circle cx="157.4" cy="180.2" r="3.05"/>
<circle cx="227.9" cy="83.6" r="3.05"/>
<circle cx="170.5" cy="190.1" r="3.05"/>
<circle cx="200.3" cy="132.4" r="3.05"/>
<circle cx="228.8" cy="110.8" r="3.05"/>
<circle cx="173.3" cy="161.2" r="3.05"/>
<circle cx="170.9" cy="168.2" r="3.05"/>
<circle cx="169.3" cy="169.5" r="3.05"/>
<circle cx="156.2" cy="174.4" r="3.05"/>
<circle cx="185.5" cy="162.5" r="3.05"/>
<circle cx="153.6" cy="186.0" r="3.05"/>
<circle cx="168.5" cy="173.1" r="3.05"/>
<circle cx="249.4" cy="115.5" r="3.05"/>
<circle cx="161.0" cy="176.8" r="3.05"/>
<circle cx="271.5" cy="102.1" r="3.05"/>
<circle cx="151.1" cy="179.9" r="3.05"/>
<circle cx="189.8" cy="158.5" r="3.05"/>
<circle cx="186.8" cy="155.4" r="3.05"/>
<circle cx="148.3" cy="181.0" r="3.05"/>
<circle cx="179.8" cy="166.7" r="3.05"/>
<circle cx="219.6" cy="151.9" r="3.05"/>
<circle cx="181.1" cy="162.1" r="3.05"/>
<circle cx="180.2" cy="163.4" r="3.05"/>
<circle cx="208.6" cy="131.9" r="3.05"/>
<circle cx="178.3" cy="160.8" r="3.05"/>
<circle cx="189.8" cy="152.7" r="3.05"/>
<circle cx="209.2" cy="140.6" r="3.05"/>
<circle cx="151.8" cy="175.8" r="3.05"/>
<circle cx="187.1" cy="166.6" r="3.05"/>
<circle cx="165.5" cy="174.5" r="3.05"/>
<circle cx="242.6" cy="108.3" r="3.05"/>
<circle cx="260.0" cy="99.0" r="3.05"/>
<circle cx="186.9" cy="151.6" r="3.05"/>
<circle cx="200.6" cy="154.1" r="3.05"/>
<circle cx="190.1" cy="153.2" r="3.05"/>
<circle cx="221.4" cy="121.8" r="3.05"/>
<circle cx="175.1" cy="170.3" r="3.05"/>
<circle cx="168.4" cy="173.8" r="3.05"/>
<circle cx="261.5" cy="104.9" r="3.05"/>
<circle cx="176.0" cy="166.1" r="3.05"/>
<circle cx="167.9" cy="173.1" r="3.05"/>
<circle cx="208.1" cy="134.5" r="3.05"/>
<circle cx="175.5" cy="155.6" r="3.05"/>
<circle cx="192.1" cy="150.3" r="3.05"/>
<circle cx="196.1" cy="160.0" r="3.05"/>
<circle cx="233.0" cy="110.5" r="3.05"/>
<circle cx="170.8" cy="161.6" r="3.05"/>
<circle cx="169.3" cy="172.4" r="3.05"/>
<circle cx="169.3" cy="168.7" r="3.05"/>
<circle cx="171.5" cy="184.3" r="3.05"/>
<circle cx="189.3" cy="158.3" r="3.05"/>
<circle cx="187.2" cy="153.3" r="3.05"/>
<circle cx="187.4" cy="159.2" r="3.05"/>
<circle cx="168.6" cy="168.3" r="3.05"/>
<circle cx="170.3" cy="148.8" r="3.05"/>
<circle cx="242.0" cy="111.3" r="3.05"/>
<circle cx="170.4" cy="159.8" r="3.05"/>
<circle cx="189.4" cy="164.8" r="3.05"/>
<circle cx="170.7" cy="168.6" r="3.05"/>
<circle cx="218.6" cy="120.4" r="3.05"/>
<circle cx="248.2" cy="95.6" r="3.05"/>
<circle cx="152.2" cy="179.2" r="3.05"/>
<circle cx="164.7" cy="177.0" r="3.05"/>
<circle cx="149.3" cy="172.5" r="3.05"/>
<circle cx="221.8" cy="133.2" r="3.05"/>
<circle cx="157.5" cy="175.1" r="3.05"/>
<circle cx="141.1" cy="182.2" r="3.05"/>
<circle cx="173.0" cy="161.5" r="3.05"/>
<circle cx="182.5" cy="149.9" r="3.05"/>
<circle cx="179.5" cy="167.7" r="3.05"/>
<circle cx="160.6" cy="170.6" r="3.05"/>
<circle cx="211.4" cy="131.8" r="3.05"/>
<circle cx="200.2" cy="145.9" r="3.05"/>
<circle cx="158.1" cy="176.1" r="3.05"/>
<circle cx="217.4" cy="130.2" r="3.05"/>
<circle cx="184.9" cy="168.5" r="3.05"/>
<circle cx="205.9" cy="161.0" r="3.05"/>
<circle cx="238.6" cy="118.6" r="3.05"/>
<circle cx="194.7" cy="161.3" r="3.05"/>
<circle cx="197.7" cy="136.2" r="3.05"/>
<circle cx="190.7" cy="151.3" r="3.05"/>
<circle cx="137.3" cy="181.9" r="3.05"/>
<circle cx="173.4" cy="176.8" r="3.05"/>
<circle cx="211.9" cy="137.6" r="3.05"/>
<circle cx="163.4" cy="176.9" r="3.05"/>
<circle cx="162.7" cy="175.0" r="3.05"/>
<circle cx="164.2" cy="180.5" r="3.05"/>
<circle cx="223.9" cy="124.8" r="3.05"/>
<circle cx="215.0" cy="119.6" r="3.05"/>
<circle cx="196.8" cy="158.7" r="3.05"/>
<circle cx="162.5" cy="180.0" r="3.05"/>
<circle cx="178.1" cy="144.5" r="3.05"/>
<circle cx="147.6" cy="176.0" r="3.05"/>
<circle cx="215.9" cy="123.5" r="3.05"/>
<circle cx="168.5" cy="177.0" r="3.05"/>
<circle cx="156.4" cy="183.8" r="3.05"/>
<circle cx="202.3" cy="144.8" r="3.05"/>
<circle cx="245.7" cy="102.2" r="3.05"/>
<circle cx="247.7" cy="87.6" r="3.05"/>
<circle cx="184.8" cy="172.9" r="3.05"/>
<circle cx="160.0" cy="171.6" r="3.05"/>
<circle cx="175.7" cy="167.6" r="3.05"/>
<circle cx="262.5" cy="84.2" r="3.05"/>
<circle cx="195.5" cy="153.9" r="3.05"/>
<circle cx="157.7" cy="170.3" r="3.05"/>
<circle cx="208.2" cy="156.9" r="3.05"/>
<circle cx="243.5" cy="76.3" r="3.05"/>
<circle cx="201.2" cy="144.1" r="3.05"/>
<circle cx="208.3" cy="128.9" r="3.05"/>
<circle cx="199.2" cy="154.6" r="3.05"/>
<circle cx="175.0" cy="158.0" r="3.05"/>
<circle cx="210.9" cy="145.1" r="3.05"/>
<circle cx="159.2" cy="179.1" r="3.05"/>
<circle cx="268.7" cy="76.7" r="3.05"/>
<circle cx="230.8" cy="126.3" r="3.05"/>
<circle cx="186.4" cy="160.8" r="3.05"/>
<circle cx="139.9" cy="183.6" r="3.05"/>
<circle cx="188.7" cy="151.7" r="3.05"/>
<circle cx="179.7" cy="163.8" r="3.05"/>
<circle cx="214.4" cy="137.6" r="3.05"/>
<circle cx="154.1" cy="188.3" r="3.05"/>
<circle cx="170.6" cy="171.3" r="3.05"/>
<circle cx="218.4" cy="131.4" r="3.05"/>
<circle cx="133.1" cy="188.4" r="3.05"/>
<circle cx="144.8" cy="188.5" r="3.05"/>
<circle cx="145.4" cy="181.2" r="3.05"/>
<circle cx="184.4" cy="159.2" r="3.05"/>
<circle cx="271.5" cy="77.1" r="3.05"/>
<circle cx="253.9" cy="95.9" r="3.05"/>
<circle cx="153.8" cy="176.3" r="3.05"/>
<circle cx="233.5" cy="118.0" r="3.05"/>
<circle cx="230.5" cy="130.0" r="3.05"/>
<circle cx="265.5" cy="85.3" r="3.05"/>
<circle cx="166.3" cy="166.1" r="3.05"/>
<circle cx="246.5" cy="108.7" r="3.05"/>
<circle cx="209.6" cy="130.4" r="3.05"/>
<circle cx="191.7" cy="153.0" r="3.05"/>
<circle cx="221.1" cy="128.9" r="3.05"/>
<circle cx="256.2" cy="95.5" r="3.05"/>
<circle cx="235.3" cy="99.1" r="3.05"/>
<circle cx="162.0" cy="168.8" r="3.05"/>
<circle cx="159.1" cy="171.6" r="3.05"/>
<circle cx="216.4" cy="129.0" r="3.05"/>
<circle cx="200.3" cy="144.9" r="3.05"/>
<circle cx="201.7" cy="141.9" r="3.05"/>
<circle cx="153.7" cy="185.6" r="3.05"/>
<circle cx="241.7" cy="112.8" r="3.05"/>
<circle cx="232.9" cy="114.4" r="3.05"/>
<circle cx="182.6" cy="164.3" r="3.05"/>
<circle cx="234.2" cy="106.5" r="3.05"/>
<circle cx="224.9" cy="114.7" r="3.05"/>
<circle cx="220.5" cy="124.6" r="3.05"/>
<circle cx="262.4" cy="93.9" r="3.05"/>
<circle cx="167.3" cy="172.0" r="3.05"/>
<circle cx="172.7" cy="157.5" r="3.05"/>
<circle cx="220.5" cy="125.5" r="3.05"/>
<circle cx="167.8" cy="165.8" r="3.05"/>
<circle cx="166.3" cy="174.5" r="3.05"/>
<circle cx="215.9" cy="89.4" r="3.05"/>
<circle cx="189.3" cy="157.3" r="3.05"/>
<circle cx="237.9" cy="114.5" r="3.05"/>
<circle cx="216.8" cy="139.5" r="3.05"/>
<circle cx="162.3" cy="172.9" r="3.05"/>
<circle cx="221.7" cy="79.1" r="3.05"/>
<circle cx="194.4" cy="158.0" r="3.05"/>
<circle cx="179.7" cy="159.0" r="3.05"/>
<circle cx="194.6" cy="156.3" r="3.05"/>
<circle cx="155.2" cy="181.4" r="3.05"/>
<circle cx="165.9" cy="166.3" r="3.05"/>
<circle cx="166.1" cy="173.0" r="3.05"/>
<circle cx="182.7" cy="152.5" r="3.05"/>
<circle cx="170.2" cy="172.5" r="3.05"/>
<circle cx="249.4" cy="84.3" r="3.05"/>
<circle cx="191.9" cy="157.7" r="3.05"/>
<circle cx="276.8" cy="83.6" r="3.05"/>
<circle cx="172.8" cy="175.1" r="3.05"/>
<circle cx="201.3" cy="139.4" r="3.05"/>
<circle cx="205.4" cy="140.7" r="3.05"/>
<circle cx="212.4" cy="130.4" r="3.05"/>
<circle cx="208.0" cy="123.4" r="3.05"/>
<circle cx="209.9" cy="138.1" r="3.05"/>
<circle cx="232.8" cy="130.0" r="3.05"/>
<circle cx="248.9" cy="105.3" r="3.05"/>
<circle cx="200.7" cy="150.0" r="3.05"/>
<circle cx="168.5" cy="170.0" r="3.05"/>
<circle cx="186.3" cy="175.6" r="3.05"/>
<circle cx="209.0" cy="145.5" r="3.05"/>
<circle cx="215.2" cy="121.1" r="3.05"/>
<circle cx="176.6" cy="163.4" r="3.05"/>
<circle cx="150.7" cy="187.2" r="3.05"/>
<circle cx="165.1" cy="162.9" r="3.05"/>
<circle cx="159.2" cy="170.4" r="3.05"/>
<circle cx="201.2" cy="142.9" r="3.05"/>
<circle cx="230.1" cy="139.8" r="3.05"/>
<circle cx="160.2" cy="169.7" r="3.05"/>
<circle cx="143.0" cy="181.8" r="3.05"/>
<circle cx="237.1" cy="99.5" r="3.05"/>
<circle cx="297.6" cy="73.8" r="3.05"/>
<circle cx="211.8" cy="124.6" r="3.05"/>
<circle cx="211.2" cy="132.9" r="3.05"/>
<circle cx="196.5" cy="147.4" r="3.05"/>
<circle cx="182.8" cy="155.6" r="3.05"/>
<circle cx="174.5" cy="169.7" r="3.05"/>
<circle cx="285.9" cy="85.7" r="3.05"/>
<circle cx="145.4" cy="181.4" r="3.05"/>
<circle cx="201.7" cy="153.2" r="3.05"/>
<circle cx="176.6" cy="164.6" r="3.05"/>
<circle cx="135.7" cy="191.5" r="3.05"/>
<circle cx="171.0" cy="173.4" r="3.05"/>
<circle cx="295.3" cy="58.7" r="3.05"/>
<circle cx="183.5" cy="160.6" r="3.05"/>
<circle cx="222.5" cy="121.8" r="3.05"/>
<circle cx="172.4" cy="162.3" r="3.05"/>
<circle cx="237.6" cy="117.4" r="3.05"/>
<circle cx="169.9" cy="173.2" r="3.05"/>
<circle cx="188.6" cy="150.6" r="3.05"/>
<circle cx="187.9" cy="160.1" r="3.05"/>
<circle cx="219.4" cy="127.1" r="3.05"/>
<circle cx="207.9" cy="149.4" r="3.05"/>
<circle cx="204.6" cy="134.7" r="3.05"/>
<circle cx="210.3" cy="136.9" r="3.05"/>
<circle cx="205.3" cy="139.2" r="3.05"/>
<circle cx="155.3" cy="172.1" r="3.05"/>
<circle cx="231.5" cy="126.8" r="3.05"/>
<circle cx="180.7" cy="170.6" r="3.05"/>
<circle cx="153.3" cy="180.8" r="3.05"/>
<circle cx="146.1" cy="185.7" r="3.05"/>
<circle cx="140.2" cy="180.3" r="3.05"/>
<circle cx="202.4" cy="149.2" r="3.05"/>
<circle cx="153.2" cy="178.4" r="3.05"/>
<circle cx="176.7" cy="167.0" r="3.05"/>
<circle cx="212.6" cy="125.6" r="3.05"/>
<circle cx="163.5" cy="173.6" r="3.05"/>
<circle cx="210.1" cy="132.7" r="3.05"/>
<circle cx="166.4" cy="170.4" r="3.05"/>
<circle cx="189.8" cy="162.5" r="3.05"/>
<circle cx="185.7" cy="170.7" r="3.05"/>
<circle cx="190.0" cy="165.3" r="3.05"/>
<circle cx="177.2" cy="182.5" r="3.05"/>
<circle cx="184.4" cy="163.4" r="3.05"/>
<circle cx="190.5" cy="147.7" r="3.05"/>
<circle cx="283.6" cy="68.6" r="3.05"/>
<circle cx="173.1" cy="163.2" r="3.05"/>
<circle cx="151.9" cy="177.8" r="3.05"/>
<circle cx="254.3" cy="95.5" r="3.05"/>
<circle cx="218.9" cy="124.3" r="3.05"/>
<circle cx="181.5" cy="158.2" r="3.05"/>
<circle cx="273.3" cy="80.5" r="3.05"/>
<circle cx="158.0" cy="178.7" r="3.05"/>
<circle cx="197.3" cy="156.8" r="3.05"/>
<circle cx="224.5" cy="116.3" r="3.05"/>
<circle cx="175.5" cy="166.3" r="3.05"/>
<circle cx="245.1" cy="99.8" r="3.05"/>
<circle cx="230.9" cy="153.1" r="3.05"/>
<circle cx="199.5" cy="128.0" r="3.05"/>
<circle cx="159.2" cy="178.9" r="3.05"/>
<circle cx="182.2" cy="161.0" r="3.05"/>
<circle cx="291.0" cy="74.3" r="3.05"/>
<circle cx="196.3" cy="156.3" r="3.05"/>
<circle cx="242.9" cy="104.2" r="3.05"/>
<circle cx="254.4" cy="89.7" r="3.05"/>
<circle cx="241.4" cy="112.8" r="3.05"/>
<circle cx="149.6" cy="183.1" r="3.05"/>
<circle cx="195.8" cy="155.6" r="3.05"/>
<circle cx="148.7" cy="170.3" r="3.05"/>
<circle cx="265.6" cy="89.9" r="3.05"/>
<circle cx="211.3" cy="130.9" r="3.05"/>
<circle cx="136.2" cy="165.3" r="3.05"/>
<circle cx="186.5" cy="159.6" r="3.05"/>
<circle cx="156.1" cy="176.4" r="3.05"/>
<circle cx="251.8" cy="82.0" r="3.05"/>
<circle cx="177.3" cy="160.6" r="3.05"/>
<circle cx="238.6" cy="113.2" r="3.05"/>
<circle cx="160.8" cy="172.5" r="3.05"/>
<circle cx="223.3" cy="125.4" r="3.05"/>
<circle cx="231.4" cy="104.5" r="3.05"/>
<circle cx="180.7" cy="156.9" r="3.05"/>
<circle cx="154.3" cy="176.2" r="3.05"/>
<circle cx="154.7" cy="177.3" r="3.05"/>
<circle cx="181.2" cy="157.5" r="3.05"/>
<circle cx="181.3" cy="165.4" r="3.05"/>
<circle cx="158.9" cy="168.9" r="3.05"/>
<circle cx="156.3" cy="181.6" r="3.05"/>
<circle cx="237.8" cy="124.6" r="3.05"/>
<circle cx="238.3" cy="107.9" r="3.05"/>
<circle cx="174.5" cy="160.7" r="3.05"/>
<circle cx="149.2" cy="179.5" r="3.05"/>
<circle cx="157.8" cy="180.6" r="3.05"/>
<circle cx="176.7" cy="160.8" r="3.05"/>
<circle cx="196.2" cy="153.0" r="3.05"/>
<circle cx="174.9" cy="171.5" r="3.05"/>
<circle cx="219.6" cy="129.8" r="3.05"/>
<circle cx="243.2" cy="111.4" r="3.05"/>
<circle cx="219.4" cy="120.7" r="3.05"/>
<circle cx="177.5" cy="159.9" r="3.05"/>
<circle cx="183.9" cy="168.4" r="3.05"/>
<circle cx="175.0" cy="162.8" r="3.05"/>
<circle cx="219.9" cy="122.5" r="3.05"/>
<circle cx="261.3" cy="77.5" r="3.05"/>
<circle cx="177.4" cy="170.6" r="3.05"/>
<circle cx="258.9" cy="84.4" r="3.05"/>
<circle cx="186.1" cy="150.0" r="3.05"/>
<circle cx="156.6" cy="172.6" r="3.05"/>
<circle cx="219.5" cy="126.4" r="3.05"/>
<circle cx="151.3" cy="180.3" r="3.05"/>
<circle cx="174.8" cy="164.1" r="3.05"/>
<circle cx="202.0" cy="133.7" r="3.05"/>
<circle cx="180.8" cy="166.8" r="3.05"/>
<circle cx="254.8" cy="104.7" r="3.05"/>
<circle cx="156.2" cy="175.8" r="3.05"/>
<circle cx="166.9" cy="167.4" r="3.05"/>
<circle cx="212.9" cy="141.8" r="3.05"/>
<circle cx="269.8" cy="66.7" r="3.05"/>
<circle cx="173.1" cy="170.0" r="3.05"/>
<circle cx="227.3" cy="126.4" r="3.05"/>
<circle cx="145.4" cy="182.7" r="3.05"/>
<circle cx="325.0" cy="95.6" r="3.05"/>
<circle cx="215.2" cy="123.4" r="3.05"/>
<circle cx="209.1" cy="130.5" r="3.05"/>
<circle cx="273.2" cy="117.8" r="3.05"/>
<circle cx="265.1" cy="83.5" r="3.05"/>
<circle cx="221.9" cy="123.4" r="3.05"/>
<circle cx="154.7" cy="187.1" r="3.05"/>
<circle cx="168.3" cy="168.7" r="3.05"/>
<circle cx="158.0" cy="187.1" r="3.05"/>
<circle cx="171.8" cy="184.3" r="3.05"/>
<circle cx="168.4" cy="179.8" r="3.05"/>
<circle cx="153.1" cy="190.1" r="3.05"/>
<circle cx="209.5" cy="128.0" r="3.05"/>
<circle cx="172.0" cy="167.7" r="3.05"/>
<circle cx="176.5" cy="168.0" r="3.05"/>
<circle cx="210.7" cy="131.2" r="3.05"/>
<circle cx="170.5" cy="167.1" r="3.05"/>
<circle cx="169.3" cy="164.0" r="3.05"/>
<circle cx="164.2" cy="175.7" r="3.05"/>
<circle cx="211.3" cy="129.6" r="3.05"/>
<circle cx="238.1" cy="111.0" r="3.05"/>
<circle cx="217.1" cy="126.2" r="3.05"/>
<circle cx="207.7" cy="163.1" r="3.05"/>
<circle cx="165.3" cy="163.0" r="3.05"/>
<circle cx="219.5" cy="136.3" r="3.05"/>
<circle cx="258.3" cy="93.6" r="3.05"/>
<circle cx="169.3" cy="173.4" r="3.05"/>
<circle cx="211.5" cy="134.9" r="3.05"/>
<circle cx="183.4" cy="159.9" r="3.05"/>
<circle cx="255.9" cy="125.9" r="3.05"/>
<circle cx="165.0" cy="165.8" r="3.05"/>
<circle cx="186.4" cy="161.7" r="3.05"/>
<circle cx="155.4" cy="181.5" r="3.05"/>
<circle cx="156.0" cy="188.4" r="3.05"/>
<circle cx="167.0" cy="168.8" r="3.05"/>
<circle cx="173.2" cy="161.2" r="3.05"/>
<circle cx="239.4" cy="95.9" r="3.05"/>
<circle cx="193.9" cy="158.5" r="3.05"/>
<circle cx="155.2" cy="177.0" r="3.05"/>
<circle cx="216.3" cy="131.6" r="3.05"/>
<circle cx="262.2" cy="87.7" r="3.05"/>
<circle cx="206.2" cy="139.0" r="3.05"/>
<circle cx="223.0" cy="133.5" r="3.05"/>
<circle cx="163.5" cy="176.5" r="3.05"/>
<circle cx="241.6" cy="120.2" r="3.05"/>
<circle cx="181.6" cy="150.9" r="3.05"/>
<circle cx="162.1" cy="174.0" r="3.05"/>
<circle cx="174.4" cy="171.7" r="3.05"/>
<circle cx="165.1" cy="183.4" r="3.05"/>
<circle cx="201.8" cy="134.1" r="3.05"/>
<circle cx="187.5" cy="159.5" r="3.05"/>
<circle cx="172.4" cy="164.7" r="3.05"/>
<circle cx="187.4" cy="163.9" r="3.05"/>
<circle cx="166.1" cy="172.4" r="3.05"/>
<circle cx="245.6" cy="101.4" r="3.05"/>
<circle cx="198.3" cy="148.4" r="3.05"/>
<circle cx="246.0" cy="110.2" r="3.05"/>
<circle cx="157.1" cy="188.1" r="3.05"/>
<circle cx="230.2" cy="152.1" r="3.05"/>
<circle cx="192.4" cy="150.3" r="3.05"/>
<circle cx="237.3" cy="106.2" r="3.05"/>
<circle cx="142.8" cy="176.8" r="3.05"/>
<circle cx="152.7" cy="179.8" r="3.05"/>
<circle cx="207.1" cy="133.3" r="3.05"/>
<circle cx="293.3" cy="64.7" r="3.05"/>
<circle cx="220.1" cy="118.1" r="3.05"/>
<circle cx="183.7" cy="166.3" r="3.05"/>
<circle cx="183.4" cy="158.2" r="3.05"/>
<circle cx="202.6" cy="140.7" r="3.05"/>
<circle cx="190.7" cy="137.9" r="3.05"/>
<circle cx="152.5" cy="178.3" r="3.05"/>
<circle cx="125.6" cy="158.0" r="3.05"/>
<circle cx="136.9" cy="186.4" r="3.05"/>
<circle cx="280.5" cy="87.1" r="3.05"/>
<circle cx="250.8" cy="118.1" r="3.05"/>
<circle cx="218.0" cy="120.9" r="3.05"/>
<circle cx="171.4" cy="168.2" r="3.05"/>
<circle cx="187.3" cy="161.9" r="3.05"/>
<circle cx="168.9" cy="172.6" r="3.05"/>
<circle cx="194.7" cy="148.0" r="3.05"/>
<circle cx="154.5" cy="175.4" r="3.05"/>
<circle cx="184.1" cy="158.7" r="3.05"/>
<circle cx="162.6" cy="166.9" r="3.05"/>
<circle cx="255.5" cy="112.4" r="3.05"/>
<circle cx="223.1" cy="109.9" r="3.05"/>
<circle cx="219.1" cy="150.4" r="3.05"/>
<circle cx="273.9" cy="99.9" r="3.05"/>
<circle cx="191.6" cy="129.3" r="3.05"/>
<circle cx="247.7" cy="107.6" r="3.05"/>
<circle cx="195.8" cy="146.8" r="3.05"/>
<circle cx="180.4" cy="165.4" r="3.05"/>
<circle cx="231.8" cy="126.2" r="3.05"/>
<circle cx="158.7" cy="163.7" r="3.05"/>
<circle cx="205.0" cy="146.0" r="3.05"/>
<circle cx="170.4" cy="166.1" r="3.05"/>
<circle cx="167.9" cy="168.4" r="3.05"/>
<circle cx="208.2" cy="130.1" r="3.05"/>
<circle cx="176.0" cy="152.7" r="3.05"/>
<circle cx="138.0" cy="184.9" r="3.05"/>
<circle cx="171.7" cy="167.4" r="3.05"/>
<circle cx="202.8" cy="136.1" r="3.05"/>
<circle cx="161.1" cy="184.6" r="3.05"/>
<circle cx="205.0" cy="150.9" r="3.05"/>
<circle cx="189.7" cy="156.5" r="3.05"/>
<circle cx="179.8" cy="167.8" r="3.05"/>
<circle cx="225.7" cy="130.4" r="3.05"/>
<circle cx="230.3" cy="101.3" r="3.05"/>
<circle cx="192.5" cy="138.4" r="3.05"/>
<circle cx="177.0" cy="170.7" r="3.05"/>
<circle cx="162.9" cy="175.6" r="3.05"/>
<circle cx="233.7" cy="118.5" r="3.05"/>
<circle cx="244.9" cy="105.5" r="3.05"/>
<circle cx="217.0" cy="124.1" r="3.05"/>
<circle cx="238.6" cy="116.9" r="3.05"/>
<circle cx="212.3" cy="134.6" r="3.05"/>
<circle cx="215.8" cy="127.8" r="3.05"/>
<circle cx="196.5" cy="160.4" r="3.05"/>
<circle cx="192.6" cy="146.1" r="3.05"/>
<circle cx="200.5" cy="139.9" r="3.05"/>
<circle cx="243.9" cy="117.0" r="3.05"/>
<circle cx="203.3" cy="142.2" r="3.05"/>
<circle cx="198.0" cy="139.4" r="3.05"/>
<circle cx="190.4" cy="147.9" r="3.05"/>
<circle cx="173.1" cy="169.2" r="3.05"/>
<circle cx="198.4" cy="158.8" r="3.05"/>
<circle cx="181.1" cy="158.1" r="3.05"/>
<circle cx="206.6" cy="143.1" r="3.05"/>
<circle cx="205.7" cy="151.0" r="3.05"/>
<circle cx="279.0" cy="76.8" r="3.05"/>
<circle cx="173.4" cy="171.4" r="3.05"/>
<circle cx="180.7" cy="164.7" r="3.05"/>
<circle cx="222.7" cy="124.7" r="3.05"/>
<circle cx="196.1" cy="149.9" r="3.05"/>
<circle cx="190.5" cy="151.4" r="3.05"/>
<circle cx="157.2" cy="175.4" r="3.05"/>
<circle cx="292.3" cy="58.1" r="3.05"/>
<circle cx="241.1" cy="101.9" r="3.05"/>
<circle cx="182.0" cy="165.8" r="3.05"/>
<circle cx="228.7" cy="111.4" r="3.05"/>
<circle cx="187.9" cy="141.5" r="3.05"/>
<circle cx="278.2" cy="71.7" r="3.05"/>
<circle cx="183.3" cy="166.0" r="3.05"/>
<circle cx="272.6" cy="74.9" r="3.05"/>
<circle cx="190.5" cy="169.1" r="3.05"/>
<circle cx="193.7" cy="160.0" r="3.05"/>
<circle cx="166.3" cy="165.7" r="3.05"/>
<circle cx="208.4" cy="132.4" r="3.05"/>
<circle cx="216.6" cy="128.6" r="3.05"/>
<circle cx="178.9" cy="172.3" r="3.05"/>
<circle cx="183.7" cy="163.1" r="3.05"/>
<circle cx="170.6" cy="165.9" r="3.05"/>
<circle cx="218.9" cy="115.9" r="3.05"/>
<circle cx="197.8" cy="145.5" r="3.05"/>
<circle cx="182.4" cy="152.7" r="3.05"/>
<circle cx="212.8" cy="140.4" r="3.05"/>
<circle cx="145.8" cy="175.6" r="3.05"/>
<circle cx="199.0" cy="149.6" r="3.05"/>
<circle cx="176.9" cy="159.4" r="3.05"/>
<circle cx="230.2" cy="111.6" r="3.05"/>
<circle cx="168.0" cy="163.8" r="3.05"/>
<circle cx="207.6" cy="138.0" r="3.05"/>
<circle cx="210.3" cy="128.0" r="3.05"/>
<circle cx="221.1" cy="120.2" r="3.05"/>
<circle cx="170.9" cy="166.9" r="3.05"/>
<circle cx="146.6" cy="181.7" r="3.05"/>
<circle cx="166.3" cy="174.5" r="3.05"/>
<circle cx="187.5" cy="135.7" r="3.05"/>
<circle cx="227.8" cy="118.6" r="3.05"/>
<circle cx="177.2" cy="163.4" r="3.05"/>
<circle cx="192.6" cy="158.0" r="3.05"/>
<circle cx="176.9" cy="163.5" r="3.05"/>
<circle cx="160.3" cy="181.9" r="3.05"/>
<circle cx="228.2" cy="114.2" r="3.05"/>
<circle cx="152.0" cy="179.3" r="3.05"/>
<circle cx="137.4" cy="183.7" r="3.05"/>
<circle cx="208.1" cy="146.7" r="3.05"/>
<circle cx="203.7" cy="146.9" r="3.05"/>
<circle cx="204.7" cy="151.3" r="3.05"/>
<circle cx="240.7" cy="115.5" r="3.05"/>
<circle cx="182.8" cy="170.7" r="3.05"/>
<circle cx="160.7" cy="169.2" r="3.05"/>
<circle cx="185.5" cy="154.7" r="3.05"/>
<circle cx="201.5" cy="147.7" r="3.05"/>
<circle cx="212.8" cy="143.3" r="3.05"/>
<circle cx="172.3" cy="174.3" r="3.05"/>
<circle cx="186.0" cy="167.0" r="3.05"/>
<circle cx="253.8" cy="97.8" r="3.05"/>
<circle cx="225.8" cy="133.3" r="3.05"/>
<circle cx="212.4" cy="131.8" r="3.05"/>
<circle cx="261.3" cy="64.7" r="3.05"/>
<circle cx="206.5" cy="146.2" r="3.05"/>
<circle cx="186.6" cy="147.6" r="3.05"/>
<circle cx="188.8" cy="164.8" r="3.05"/>
<circle cx="160.4" cy="164.2" r="3.05"/>
<circle cx="164.0" cy="182.4" r="3.05"/>
<circle cx="163.0" cy="172.6" r="3.05"/>
<circle cx="211.7" cy="135.3" r="3.05"/>
<circle cx="199.1" cy="138.3" r="3.05"/>
<circle cx="168.4" cy="168.8" r="3.05"/>
<circle cx="229.5" cy="125.2" r="3.05"/>
<circle cx="247.9" cy="136.9" r="3.05"/>
<circle cx="175.8" cy="171.1" r="3.05"/>
<circle cx="142.3" cy="182.2" r="3.05"/>
<circle cx="208.9" cy="136.5" r="3.05"/>
<circle cx="192.0" cy="149.9" r="3.05"/>
<circle cx="177.4" cy="161.8" r="3.05"/>
<circle cx="171.3" cy="162.0" r="3.05"/>
<circle cx="168.2" cy="189.7" r="3.05"/>
<circle cx="154.1" cy="178.4" r="3.05"/>
<circle cx="190.7" cy="160.7" r="3.05"/>
<circle cx="184.8" cy="162.6" r="3.05"/>
<circle cx="178.2" cy="156.9" r="3.05"/>
<circle cx="200.1" cy="142.9" r="3.05"/>
<circle cx="230.2" cy="112.9" r="3.05"/>
<circle cx="269.3" cy="90.2" r="3.05"/>
<circle cx="161.0" cy="160.5" r="3.05"/>
<circle cx="188.8" cy="155.0" r="3.05"/>
<circle cx="173.4" cy="167.0" r="3.05"/>
<circle cx="262.1" cy="98.6" r="3.05"/>
<circle cx="174.3" cy="170.6" r="3.05"/>
<circle cx="211.1" cy="125.4" r="3.05"/>
<circle cx="145.1" cy="179.0" r="3.05"/>
<circle cx="233.1" cy="124.8" r="3.05"/>
<circle cx="166.6" cy="163.0" r="3.05"/>
<circle cx="157.9" cy="175.6" r="3.05"/>
<circle cx="179.7" cy="162.7" r="3.05"/>
<circle cx="185.3" cy="145.6" r="3.05"/>
<circle cx="191.0" cy="134.8" r="3.05"/>
<circle cx="214.1" cy="142.5" r="3.05"/>
<circle cx="252.5" cy="106.8" r="3.05"/>
<circle cx="153.2" cy="177.7" r="3.05"/>
<circle cx="153.3" cy="182.1" r="3.05"/>
<circle cx="165.4" cy="163.7" r="3.05"/>
<circle cx="145.1" cy="187.1" r="3.05"/>
<circle cx="153.5" cy="181.8" r="3.05"/>
<circle cx="175.8" cy="175.0" r="3.05"/>
<circle cx="212.3" cy="153.2" r="3.05"/>
<circle cx="181.7" cy="162.9" r="3.05"/>
<circle cx="159.4" cy="178.8" r="3.05"/>
<circle cx="146.3" cy="183.8" r="3.05"/>
<circle cx="169.5" cy="178.3" r="3.05"/>
<circle cx="150.6" cy="187.6" r="3.05"/>
<circle cx="200.7" cy="138.5" r="3.05"/>
<circle cx="192.7" cy="106.0" r="3.05"/>
<circle cx="221.6" cy="118.3" r="3.05"/>
<circle cx="159.7" cy="179.9" r="3.05"/>
<circle cx="154.5" cy="187.4" r="3.05"/>
<circle cx="227.8" cy="118.2" r="3.05"/>
<circle cx="198.6" cy="145.2" r="3.05"/>
<circle cx="276.4" cy="80.6" r="3.05"/>
<circle cx="160.7" cy="182.2" r="3.05"/>
<circle cx="182.3" cy="144.3" r="3.05"/>
<circle cx="228.6" cy="112.4" r="3.05"/>
<circle cx="193.4" cy="149.1" r="3.05"/>
<circle cx="183.4" cy="161.4" r="3.05"/>
<circle cx="167.6" cy="193.2" r="3.05"/>
<circle cx="226.7" cy="105.6" r="3.05"/>
<circle cx="223.4" cy="117.9" r="3.05"/>
<circle cx="175.5" cy="177.1" r="3.05"/>
<circle cx="164.6" cy="168.5" r="3.05"/>
<circle cx="158.7" cy="172.7" r="3.05"/>
<circle cx="204.7" cy="135.5" r="3.05"/>
<circle cx="180.3" cy="168.2" r="3.05"/>
<circle cx="214.2" cy="129.3" r="3.05"/>
<circle cx="219.9" cy="138.9" r="3.05"/>
<circle cx="205.6" cy="145.6" r="3.05"/>
<circle cx="151.1" cy="171.6" r="3.05"/>
<circle cx="166.2" cy="150.6" r="3.05"/>
<circle cx="202.3" cy="120.5" r="3.05"/>
<circle cx="173.3" cy="171.5" r="3.05"/>
<circle cx="180.3" cy="175.3" r="3.05"/>
<circle cx="187.6" cy="167.2" r="3.05"/>
<circle cx="147.5" cy="181.9" r="3.05"/>
<circle cx="194.6" cy="151.9" r="3.05"/>
<circle cx="209.8" cy="130.7" r="3.05"/>
<circle cx="207.5" cy="143.3" r="3.05"/>
<circle cx="240.1" cy="95.0" r="3.05"/>
<circle cx="256.4" cy="125.6" r="3.05"/>
<circle cx="178.5" cy="177.4" r="3.05"/>
<circle cx="188.2" cy="152.8" r="3.05"/>
<circle cx="226.7" cy="148.2" r="3.05"/>
<circle cx="165.7" cy="176.2" r="3.05"/>
<circle cx="165.6" cy="172.1" r="3.05"/>
<circle cx="174.2" cy="165.5" r="3.05"/>
<circle cx="168.5" cy="167.3" r="3.05"/>
<circle cx="155.9" cy="178.7" r="3.05"/>
<circle cx="157.8" cy="176.5" r="3.05"/>
<circle cx="198.7" cy="158.0" r="3.05"/>
<circle cx="188.7" cy="149.0" r="3.05"/>
<circle cx="168.3" cy="167.1" r="3.05"/>
<circle cx="200.5" cy="142.3" r="3.05"/>
<circle cx="255.3" cy="103.8" r="3.05"/>
<circle cx="204.8" cy="145.2" r="3.05"/>
<circle cx="274.4" cy="84.3" r="3.05"/>
<circle cx="183.7" cy="143.8" r="3.05"/>
<circle cx="210.2" cy="141.5" r="3.05"/>
<circle cx="185.6" cy="162.8" r="3.05"/>
<circle cx="205.2" cy="133.7" r="3.05"/>
<circle cx="229.7" cy="111.6" r="3.05"/>
<circle cx="194.3" cy="150.8" r="3.05"/>
<circle cx="161.1" cy="173.3" r="3.05"/>
<circle cx="167.7" cy="170.0" r="3.05"/>
<circle cx="222.3" cy="127.9" r="3.05"/>
<circle cx="234.8" cy="120.0" r="3.05"/>
<circle cx="210.1" cy="134.1" r="3.05"/>
<circle cx="181.8" cy="165.8" r="3.05"/>
<circle cx="248.4" cy="99.8" r="3.05"/>
<circle cx="166.9" cy="165.1" r="3.05"/>
<circle cx="153.8" cy="181.8" r="3.05"/>
<circle cx="175.6" cy="177.5" r="3.05"/>
<circle cx="206.0" cy="144.5" r="3.05"/>
<circle cx="178.4" cy="158.4" r="3.05"/>
<circle cx="183.8" cy="152.1" r="3.05"/>
<circle cx="169.9" cy="172.2" r="3.05"/>
<circle cx="180.7" cy="164.3" r="3.05"/>
<circle cx="257.9" cy="95.5" r="3.05"/>
<circle cx="196.5" cy="130.0" r="3.05"/>
<circle cx="214.6" cy="143.6" r="3.05"/>
<circle cx="154.9" cy="156.2" r="3.05"/>
<circle cx="276.6" cy="75.2" r="3.05"/>
<circle cx="246.5" cy="102.8" r="3.05"/>
<circle cx="166.5" cy="183.0" r="3.05"/>
<circle cx="203.7" cy="146.1" r="3.05"/>
<circle cx="222.2" cy="123.1" r="3.05"/>
<circle cx="224.1" cy="122.9" r="3.05"/>
<circle cx="197.7" cy="148.1" r="3.05"/>
<circle cx="184.1" cy="155.1" r="3.05"/>
<circle cx="214.2" cy="128.0" r="3.05"/>
<circle cx="190.6" cy="148.4" r="3.05"/>
<circle cx="165.7" cy="169.0" r="3.05"/>
<circle cx="239.5" cy="115.5" r="3.05"/>
<circle cx="221.1" cy="122.7" r="3.05"/>
<circle cx="150.1" cy="185.1" r="3.05"/>
<circle cx="228.7" cy="126.1" r="3.05"/>
<circle cx="182.8" cy="164.4" r="3.05"/>
<circle cx="172.3" cy="181.2" r="3.05"/>
<circle cx="159.4" cy="168.1" r="3.05"/>
<circle cx="178.9" cy="166.6" r="3.05"/>
<circle cx="178.1" cy="159.8" r="3.05"/>
<circle cx="204.5" cy="135.1" r="3.05"/>
<circle cx="154.4" cy="178.8" r="3.05"/>
<circle cx="207.0" cy="138.4" r="3.05"/>
<circle cx="145.9" cy="179.9" r="3.05"/>
<circle cx="239.8" cy="88.9" r="3.05"/>
<circle cx="233.6" cy="100.9" r="3.05"/>
<circle cx="195.3" cy="156.1" r="3.05"/>
<circle cx="225.0" cy="121.4" r="3.05"/>
<circle cx="282.9" cy="75.5" r="3.05"/>
<circle cx="197.0" cy="155.7" r="3.05"/>
<circle cx="212.5" cy="134.2" r="3.05"/>
<circle cx="232.2" cy="134.4" r="3.05"/>
<circle cx="175.0" cy="181.7" r="3.05"/>
<circle cx="182.7" cy="162.9" r="3.05"/>
<circle cx="161.1" cy="173.2" r="3.05"/>
<circle cx="196.4" cy="143.5" r="3.05"/>
<circle cx="213.8" cy="132.3" r="3.05"/>
<circle cx="214.3" cy="136.7" r="3.05"/>
<circle cx="190.5" cy="160.0" r="3.05"/>
<circle cx="249.7" cy="98.8" r="3.05"/>
<circle cx="227.7" cy="121.9" r="3.05"/>
<circle cx="204.6" cy="135.8" r="3.05"/>
<circle cx="184.4" cy="166.7" r="3.05"/>
<circle cx="186.2" cy="159.1" r="3.05"/>
<circle cx="144.8" cy="178.6" r="3.05"/>
<circle cx="164.1" cy="171.7" r="3.05"/>
<circle cx="155.5" cy="180.1" r="3.05"/>
<circle cx="167.7" cy="168.6" r="3.05"/>
<circle cx="196.7" cy="151.1" r="3.05"/>
<circle cx="172.8" cy="168.5" r="3.05"/>
<circle cx="188.8" cy="135.0" r="3.05"/>
<circle cx="220.9" cy="110.3" r="3.05"/>
<circle cx="226.6" cy="127.8" r="3.05"/>
<circle cx="158.4" cy="177.9" r="3.05"/>
<circle cx="172.5" cy="166.1" r="3.05"/>
<circle cx="162.2" cy="172.3" r="3.05"/>
<circle cx="246.2" cy="93.4" r="3.05"/>
<circle cx="185.5" cy="152.4" r="3.05"/>
<circle cx="183.8" cy="170.2" r="3.05"/>
<circle cx="166.1" cy="168.9" r="3.05"/>
<circle cx="193.0" cy="145.2" r="3.05"/>
<circle cx="176.7" cy="163.4" r="3.05"/>
<circle cx="151.7" cy="183.7" r="3.05"/>
<circle cx="206.7" cy="144.6" r="3.05"/>
<circle cx="221.5" cy="127.9" r="3.05"/>
<circle cx="166.4" cy="187.4" r="3.05"/>
<circle cx="216.5" cy="146.5" r="3.05"/>
<circle cx="157.9" cy="187.3" r="3.05"/>
<circle cx="147.8" cy="174.8" r="3.05"/>
<circle cx="166.1" cy="168.5" r="3.05"/>
<circle cx="208.1" cy="131.7" r="3.05"/>
<circle cx="152.0" cy="184.3" r="3.05"/>
<circle cx="232.9" cy="116.2" r="3.05"/>
<circle cx="216.1" cy="137.6" r="3.05"/>
<circle cx="167.3" cy="170.3" r="3.05"/>
<circle cx="164.4" cy="174.5" r="3.05"/>
<circle cx="194.8" cy="156.2" r="3.05"/>
<circle cx="167.4" cy="172.3" r="3.05"/>
<circle cx="166.5" cy="168.8" r="3.05"/>
<circle cx="223.2" cy="121.1" r="3.05"/>
<circle cx="160.0" cy="181.0" r="3.05"/>
<circle cx="286.0" cy="51.0" r="3.05"/>
<circle cx="194.3" cy="156.3" r="3.05"/>
<circle cx="190.3" cy="148.6" r="3.05"/>
<circle cx="252.2" cy="104.1" r="3.05"/>
<circle cx="182.7" cy="166.8" r="3.05"/>
<circle cx="176.2" cy="164.8" r="3.05"/>
<circle cx="164.1" cy="166.3" r="3.05"/>
<circle cx="203.9" cy="141.5" r="3.05"/>
<circle cx="250.5" cy="92.5" r="3.05"/>
<circle cx="180.9" cy="163.9" r="3.05"/>
<circle cx="207.8" cy="138.7" r="3.05"/>
<circle cx="196.4" cy="141.9" r="3.05"/>
<circle cx="162.5" cy="149.4" r="3.05"/>
<circle cx="164.0" cy="181.1" r="3.05"/>
<circle cx="167.1" cy="175.2" r="3.05"/>
<circle cx="249.2" cy="107.0" r="3.05"/>
<circle cx="171.8" cy="175.1" r="3.05"/>
<circle cx="249.9" cy="97.8" r="3.05"/>
<circle cx="228.4" cy="116.7" r="3.05"/>
<circle cx="216.6" cy="134.1" r="3.05"/>
<circle cx="158.9" cy="184.1" r="3.05"/>
<circle cx="204.8" cy="133.5" r="3.05"/>
<circle cx="204.4" cy="137.4" r="3.05"/>
<circle cx="152.2" cy="180.4" r="3.05"/>
<circle cx="220.5" cy="130.3" r="3.05"/>
<circle cx="168.9" cy="166.3" r="3.05"/>
<circle cx="150.5" cy="184.3" r="3.05"/>
<circle cx="173.9" cy="159.1" r="3.05"/>
<circle cx="163.7" cy="165.5" r="3.05"/>
<circle cx="167.8" cy="167.3" r="3.05"/>
<circle cx="157.4" cy="170.7" r="3.05"/>
<circle cx="172.8" cy="155.1" r="3.05"/>
<circle cx="150.4" cy="181.9" r="3.05"/>
<circle cx="182.6" cy="153.6" r="3.05"/>
<circle cx="159.0" cy="177.8" r="3.05"/>
<circle cx="191.5" cy="152.5" r="3.05"/>
<circle cx="171.2" cy="162.0" r="3.05"/>
<circle cx="278.7" cy="77.4" r="3.05"/>
<circle cx="264.8" cy="93.7" r="3.05"/>
<circle cx="209.2" cy="132.9" r="3.05"/>
<circle cx="249.5" cy="89.7" r="3.05"/>
<circle cx="221.8" cy="117.3" r="3.05"/>
<circle cx="240.9" cy="138.0" r="3.05"/>
<circle cx="295.8" cy="66.1" r="3.05"/>
<circle cx="171.4" cy="167.0" r="3.05"/>
<circle cx="191.9" cy="153.8" r="3.05"/>
<circle cx="207.3" cy="145.9" r="3.05"/>
<circle cx="171.9" cy="179.2" r="3.05"/>
<circle cx="256.6" cy="89.4" r="3.05"/>
<circle cx="213.1" cy="135.9" r="3.05"/>
<circle cx="179.1" cy="160.5" r="3.05"/>
<circle cx="207.1" cy="134.6" r="3.05"/>
<circle cx="226.7" cy="129.9" r="3.05"/>
<circle cx="237.5" cy="117.9" r="3.05"/>
<circle cx="197.1" cy="146.4" r="3.05"/>
<circle cx="220.8" cy="132.7" r="3.05"/>
<circle cx="175.7" cy="172.6" r="3.05"/>
<circle cx="233.2" cy="99.9" r="3.05"/>
<circle cx="265.3" cy="86.9" r="3.05"/>
<circle cx="243.5" cy="104.3" r="3.05"/>
<circle cx="251.0" cy="115.9" r="3.05"/>
<circle cx="266.9" cy="86.8" r="3.05"/>
<circle cx="179.7" cy="133.1" r="3.05"/>
<circle cx="191.8" cy="150.6" r="3.05"/>
<circle cx="181.5" cy="161.9" r="3.05"/>
<circle cx="137.8" cy="179.8" r="3.05"/>
<circle cx="263.3" cy="108.7" r="3.05"/>
<circle cx="168.8" cy="159.3" r="3.05"/>
<circle cx="266.7" cy="108.7" r="3.05"/>
<circle cx="151.8" cy="184.2" r="3.05"/>
<circle cx="174.8" cy="154.9" r="3.05"/>
<circle cx="250.5" cy="94.7" r="3.05"/>
<circle cx="256.7" cy="102.9" r="3.05"/>
<circle cx="194.5" cy="156.5" r="3.05"/>
<circle cx="211.9" cy="138.2" r="3.05"/>
<circle cx="137.3" cy="189.1" r="3.05"/>
<circle cx="178.0" cy="172.5" r="3.05"/>
<circle cx="152.7" cy="180.9" r="3.05"/>
<circle cx="252.9" cy="93.4" r="3.05"/>
<circle cx="200.2" cy="145.6" r="3.05"/>
<circle cx="243.3" cy="106.6" r="3.05"/>
<circle cx="240.8" cy="138.3" r="3.05"/>
<circle cx="243.8" cy="91.2" r="3.05"/>
<circle cx="169.4" cy="168.8" r="3.05"/>
<circle cx="175.1" cy="165.0" r="3.05"/>
<circle cx="169.3" cy="169.7" r="3.05"/>
<circle cx="202.7" cy="134.2" r="3.05"/>
<circle cx="183.5" cy="167.1" r="3.05"/>
<circle cx="150.8" cy="183.7" r="3.05"/>
<circle cx="149.0" cy="179.0" r="3.05"/>
<circle cx="172.6" cy="170.6" r="3.05"/>
<circle cx="205.8" cy="137.1" r="3.05"/>
<circle cx="274.0" cy="73.4" r="3.05"/>
<circle cx="169.9" cy="175.2" r="3.05"/>
<circle cx="166.9" cy="171.2" r="3.05"/>
<circle cx="215.3" cy="162.4" r="3.05"/>
<circle cx="178.3" cy="159.4" r="3.05"/>
<circle cx="159.2" cy="168.0" r="3.05"/>
<circle cx="187.5" cy="164.2" r="3.05"/>
<circle cx="158.1" cy="178.3" r="3.05"/>
<circle cx="219.7" cy="119.4" r="3.05"/>
<circle cx="221.8" cy="134.5" r="3.05"/>
<circle cx="185.4" cy="152.8" r="3.05"/>
<circle cx="239.2" cy="108.2" r="3.05"/>
<circle cx="239.3" cy="105.9" r="3.05"/>
<circle cx="148.8" cy="189.7" r="3.05"/>
<circle cx="148.9" cy="186.1" r="3.05"/>
<circle cx="235.8" cy="97.5" r="3.05"/>
<circle cx="194.9" cy="146.1" r="3.05"/>
<circle cx="187.4" cy="155.4" r="3.05"/>
<circle cx="150.6" cy="175.5" r="3.05"/>
<circle cx="152.7" cy="174.0" r="3.05"/>
<circle cx="241.8" cy="112.9" r="3.05"/>
<circle cx="177.0" cy="176.0" r="3.05"/>
<circle cx="204.0" cy="148.5" r="3.05"/>
<circle cx="198.6" cy="147.2" r="3.05"/>
<circle cx="173.7" cy="148.8" r="3.05"/>
<circle cx="163.7" cy="176.8" r="3.05"/>
<circle cx="145.5" cy="187.8" r="3.05"/>
<circle cx="212.1" cy="142.4" r="3.05"/>
<circle cx="170.8" cy="163.8" r="3.05"/>
<circle cx="234.1" cy="93.5" r="3.05"/>
<circle cx="219.4" cy="135.3" r="3.05"/>
<circle cx="229.8" cy="111.6" r="3.05"/>
<circle cx="174.0" cy="181.1" r="3.05"/>
<circle cx="244.7" cy="87.7" r="3.05"/>
<circle cx="164.4" cy="166.4" r="3.05"/>
<circle cx="175.9" cy="176.4" r="3.05"/>
<circle cx="151.4" cy="185.1" r="3.05"/>
<circle cx="253.0" cy="98.5" r="3.05"/>
<circle cx="232.3" cy="112.5" r="3.05"/>
<circle cx="164.2" cy="163.8" r="3.05"/>
<circle cx="280.6" cy="65.8" r="3.05"/>
<circle cx="215.6" cy="129.8" r="3.05"/>
<circle cx="215.4" cy="122.3" r="3.05"/>
<circle cx="188.4" cy="156.3" r="3.05"/>
<circle cx="262.5" cy="90.7" r="3.05"/>
<circle cx="207.2" cy="142.4" r="3.05"/>
<circle cx="168.7" cy="166.5" r="3.05"/>
<circle cx="181.5" cy="164.0" r="3.05"/>
<circle cx="158.6" cy="177.8" r="3.05"/>
<circle cx="281.0" cy="75.8" r="3.05"/>
<circle cx="233.7" cy="107.9" r="3.05"/>
<circle cx="175.2" cy="166.9" r="3.05"/>
<circle cx="189.6" cy="157.7" r="3.05"/>
<circle cx="227.6" cy="121.5" r="3.05"/>
<circle cx="202.0" cy="147.6" r="3.05"/>
<circle cx="166.1" cy="166.5" r="3.05"/>
<circle cx="163.8" cy="171.9" r="3.05"/>
<circle cx="193.2" cy="150.5" r="3.05"/>
<circle cx="220.3" cy="129.8" r="3.05"/>
<circle cx="154.9" cy="176.2" r="3.05"/>
<circle cx="167.1" cy="183.2" r="3.05"/>
<circle cx="157.2" cy="186.0" r="3.05"/>
<circle cx="223.5" cy="120.7" r="3.05"/>
<circle cx="175.5" cy="158.6" r="3.05"/>
<circle cx="156.4" cy="185.9" r="3.05"/>
<circle cx="212.5" cy="140.5" r="3.05"/>
<circle cx="164.2" cy="171.7" r="3.05"/>
<circle cx="228.0" cy="115.8" r="3.05"/>
<circle cx="251.1" cy="101.8" r="3.05"/>
<circle cx="188.8" cy="152.9" r="3.05"/>
<circle cx="243.3" cy="71.8" r="3.05"/>
<circle cx="246.4" cy="104.5" r="3.05"/>
<circle cx="158.2" cy="185.9" r="3.05"/>
<circle cx="209.6" cy="135.2" r="3.05"/>
<circle cx="235.0" cy="104.9" r="3.05"/>
<circle cx="223.4" cy="98.4" r="3.05"/>
<circle cx="185.2" cy="168.4" r="3.05"/>
<circle cx="150.8" cy="183.0" r="3.05"/>
<circle cx="250.1" cy="101.1" r="3.05"/>
<circle cx="216.8" cy="117.6" r="3.05"/>
<circle cx="143.4" cy="189.3" r="3.05"/>
<circle cx="203.2" cy="143.7" r="3.05"/>
<circle cx="211.1" cy="115.4" r="3.05"/>
<circle cx="228.8" cy="124.2" r="3.05"/>
<circle cx="211.4" cy="138.3" r="3.05"/>
<circle cx="217.4" cy="128.3" r="3.05"/>
<circle cx="180.9" cy="167.8" r="3.05"/>
<circle cx="227.5" cy="163.3" r="3.05"/>
<circle cx="165.7" cy="174.1" r="3.05"/>
<circle cx="144.6" cy="183.4" r="3.05"/>
<circle cx="166.4" cy="167.3" r="3.05"/>
<circle cx="180.0" cy="154.4" r="3.05"/>
<circle cx="182.4" cy="180.3" r="3.05"/>
<circle cx="192.6" cy="133.0" r="3.05"/>
<circle cx="260.9" cy="64.3" r="3.05"/>
<circle cx="165.5" cy="191.1" r="3.05"/>
<circle cx="209.4" cy="141.3" r="3.05"/>
<circle cx="204.8" cy="136.0" r="3.05"/>
<circle cx="251.6" cy="89.8" r="3.05"/>
<circle cx="177.8" cy="171.8" r="3.05"/>
<circle cx="203.3" cy="143.2" r="3.05"/>
<circle cx="148.9" cy="179.7" r="3.05"/>
<circle cx="150.1" cy="175.6" r="3.05"/>
<circle cx="189.5" cy="169.5" r="3.05"/>
<circle cx="208.5" cy="123.6" r="3.05"/>
<circle cx="182.9" cy="169.9" r="3.05"/>
<circle cx="261.6" cy="89.8" r="3.05"/>
<circle cx="197.9" cy="133.0" r="3.05"/>
<circle cx="147.6" cy="168.4" r="3.05"/>
<circle cx="154.1" cy="175.1" r="3.05"/>
<circle cx="229.4" cy="125.5" r="3.05"/>
<circle cx="211.3" cy="139.2" r="3.05"/>
<circle cx="319.6" cy="85.1" r="3.05"/>
<circle cx="275.4" cy="93.0" r="3.05"/>
<circle cx="222.3" cy="132.1" r="3.05"/>
<circle cx="192.3" cy="164.5" r="3.05"/>
<circle cx="280.5" cy="71.5" r="3.05"/>
<circle cx="206.6" cy="130.1" r="3.05"/>
<circle cx="164.6" cy="175.4" r="3.05"/>
<circle cx="266.2" cy="112.8" r="3.05"/>
<circle cx="295.7" cy="63.3" r="3.05"/>
<circle cx="147.5" cy="184.4" r="3.05"/>
<circle cx="178.3" cy="165.8" r="3.05"/>
<circle cx="193.8" cy="152.9" r="3.05"/>
<circle cx="193.7" cy="146.8" r="3.05"/>
<circle cx="198.5" cy="139.0" r="3.05"/>
<circle cx="274.6" cy="65.7" r="3.05"/>
<circle cx="191.9" cy="164.0" r="3.05"/>
<circle cx="162.1" cy="173.1" r="3.05"/>
<circle cx="146.6" cy="178.8" r="3.05"/>
<circle cx="171.1" cy="163.5" r="3.05"/>
<circle cx="205.5" cy="133.6" r="3.05"/>
<circle cx="173.2" cy="167.3" r="3.05"/>
<circle cx="184.6" cy="172.1" r="3.05"/>
<circle cx="195.4" cy="156.0" r="3.05"/>
<circle cx="272.1" cy="79.6" r="3.05"/>
<circle cx="228.3" cy="128.6" r="3.05"/>
<circle cx="233.6" cy="119.0" r="3.05"/>
<circle cx="210.7" cy="140.2" r="3.05"/>
<circle cx="176.0" cy="168.1" r="3.05"/>
<circle cx="199.1" cy="147.2" r="3.05"/>
<circle cx="167.3" cy="168.8" r="3.05"/>
<circle cx="201.1" cy="141.9" r="3.05"/>
<circle cx="187.2" cy="161.3" r="3.05"/>
<circle cx="184.7" cy="170.2" r="3.05"/>
<circle cx="307.4" cy="102.1" r="3.05"/>
<circle cx="233.3" cy="103.8" r="3.05"/>
<circle cx="195.4" cy="147.9" r="3.05"/>
<circle cx="245.7" cy="102.7" r="3.05"/>
<circle cx="179.9" cy="167.0" r="3.05"/>
<circle cx="158.4" cy="183.5" r="3.05"/>
<circle cx="189.2" cy="158.0" r="3.05"/>
<circle cx="173.1" cy="167.1" r="3.05"/>
<circle cx="178.3" cy="160.6" r="3.05"/>
<circle cx="138.0" cy="190.1" r="3.05"/>
<circle cx="148.1" cy="175.8" r="3.05"/>
<circle cx="173.0" cy="166.4" r="3.05"/>
<circle cx="229.5" cy="114.9" r="3.05"/>
<circle cx="217.0" cy="133.7" r="3.05"/>
<circle cx="162.5" cy="170.4" r="3.05"/>
<circle cx="204.3" cy="139.0" r="3.05"/>
</g>
<line x1="75.6" y1="266.3" x2="335.8" y2="6.3" stroke="#000" stroke-width="4.3" stroke-dasharray="14.9 5.8" clip-path="url(#ca)"/>
<g clip-path="url(#ca)" fill="#1f77b4" stroke="#0b0b0b" stroke-width="1.0">
<circle cx="205.7" cy="154.8" r="3.05"/>
<circle cx="214.4" cy="133.8" r="3.05"/>
<circle cx="169.9" cy="169.3" r="3.05"/>
<circle cx="145.7" cy="188.8" r="3.05"/>
<circle cx="144.5" cy="182.0" r="3.05"/>
<circle cx="211.7" cy="145.3" r="3.05"/>
<circle cx="192.8" cy="157.3" r="3.05"/>
<circle cx="203.9" cy="142.5" r="3.05"/>
<circle cx="186.3" cy="151.7" r="3.05"/>
<circle cx="187.6" cy="158.6" r="3.05"/>
<circle cx="230.9" cy="128.6" r="3.05"/>
<circle cx="149.8" cy="184.2" r="3.05"/>
<circle cx="195.8" cy="155.4" r="3.05"/>
<circle cx="219.1" cy="124.0" r="3.05"/>
<circle cx="144.3" cy="180.6" r="3.05"/>
<circle cx="168.0" cy="174.3" r="3.05"/>
<circle cx="177.4" cy="180.3" r="3.05"/>
<circle cx="279.9" cy="71.3" r="3.05"/>
<circle cx="194.7" cy="148.4" r="3.05"/>
<circle cx="229.3" cy="111.5" r="3.05"/>
<circle cx="222.9" cy="129.7" r="3.05"/>
<circle cx="194.3" cy="161.5" r="3.05"/>
<circle cx="221.5" cy="115.0" r="3.05"/>
<circle cx="277.4" cy="77.4" r="3.05"/>
<circle cx="152.7" cy="182.0" r="3.05"/>
<circle cx="205.8" cy="135.1" r="3.05"/>
<circle cx="184.5" cy="157.6" r="3.05"/>
<circle cx="237.2" cy="113.3" r="3.05"/>
<circle cx="156.2" cy="179.6" r="3.05"/>
<circle cx="187.5" cy="156.5" r="3.05"/>
<circle cx="233.7" cy="115.9" r="3.05"/>
<circle cx="185.3" cy="140.8" r="3.05"/>
<circle cx="172.6" cy="179.2" r="3.05"/>
<circle cx="234.6" cy="115.6" r="3.05"/>
<circle cx="279.7" cy="97.3" r="3.05"/>
<circle cx="220.5" cy="130.5" r="3.05"/>
<circle cx="168.6" cy="166.0" r="3.05"/>
<circle cx="181.3" cy="166.8" r="3.05"/>
<circle cx="188.3" cy="158.3" r="3.05"/>
<circle cx="211.6" cy="143.2" r="3.05"/>
<circle cx="276.2" cy="92.2" r="3.05"/>
<circle cx="168.5" cy="165.2" r="3.05"/>
<circle cx="224.0" cy="128.8" r="3.05"/>
<circle cx="203.6" cy="139.7" r="3.05"/>
<circle cx="234.7" cy="101.0" r="3.05"/>
<circle cx="237.8" cy="127.2" r="3.05"/>
<circle cx="179.9" cy="148.1" r="3.05"/>
<circle cx="189.1" cy="162.9" r="3.05"/>
<circle cx="190.5" cy="150.3" r="3.05"/>
<circle cx="193.7" cy="148.9" r="3.05"/>
<circle cx="168.5" cy="176.9" r="3.05"/>
<circle cx="210.8" cy="142.7" r="3.05"/>
<circle cx="157.4" cy="175.3" r="3.05"/>
<circle cx="187.5" cy="149.5" r="3.05"/>
<circle cx="157.1" cy="179.3" r="3.05"/>
<circle cx="172.8" cy="166.1" r="3.05"/>
<circle cx="254.1" cy="108.1" r="3.05"/>
<circle cx="217.3" cy="125.5" r="3.05"/>
</g>
<g clip-path="url(#cb)" fill="#1f77b4" stroke="#0b0b0b" stroke-width="1.0">
<circle cx="484.5" cy="213.9" r="3.05"/>
<circle cx="525.0" cy="170.4" r="3.05"/>
<circle cx="538.2" cy="145.2" r="3.05"/>
<circle cx="457.6" cy="223.0" r="3.05"/>
<circle cx="577.9" cy="119.0" r="3.05"/>
<circle cx="507.9" cy="190.2" r="3.05"/>
<circle cx="543.8" cy="170.4" r="3.05"/>
<circle cx="487.8" cy="196.5" r="3.05"/>
<circle cx="482.3" cy="223.6" r="3.05"/>
<circle cx="501.9" cy="179.5" r="3.05"/>
<circle cx="445.8" cy="238.5" r="3.05"/>
<circle cx="580.2" cy="122.4" r="3.05"/>
<circle cx="474.0" cy="222.5" r="3.05"/>
<circle cx="545.9" cy="137.0" r="3.05"/>
<circle cx="546.4" cy="167.4" r="3.05"/>
<circle cx="443.2" cy="237.3" r="3.05"/>
<circle cx="539.7" cy="128.9" r="3.05"/>
<circle cx="471.0" cy="218.3" r="3.05"/>
<circle cx="530.8" cy="176.1" r="3.05"/>
<circle cx="549.1" cy="155.2" r="3.05"/>
<circle cx="530.1" cy="185.5" r="3.05"/>
<circle cx="505.4" cy="165.4" r="3.05"/>
<circle cx="558.2" cy="135.0" r="3.05"/>
<circle cx="536.2" cy="166.9" r="3.05"/>
<circle cx="509.9" cy="187.9" r="3.05"/>
<circle cx="466.1" cy="220.2" r="3.05"/>
<circle cx="476.8" cy="199.7" r="3.05"/>
<circle cx="461.3" cy="218.8" r="3.05"/>
<circle cx="562.0" cy="173.7" r="3.05"/>
<circle cx="555.7" cy="131.0" r="3.05"/>
<circle cx="474.3" cy="207.1" r="3.05"/>
<circle cx="451.5" cy="228.1" r="3.05"/>
<circle cx="498.0" cy="193.9" r="3.05"/>
<circle cx="462.1" cy="229.1" r="3.05"/>
<circle cx="576.3" cy="120.0" r="3.05"/>
<circle cx="515.8" cy="188.0" r="3.05"/>
<circle cx="528.8" cy="178.9" r="3.05"/>
<circle cx="434.5" cy="238.4" r="3.05"/>
<circle cx="488.8" cy="162.8" r="3.05"/>
<circle cx="438.2" cy="242.3" r="3.05"/>
<circle cx="540.9" cy="144.9" r="3.05"/>
<circle cx="575.3" cy="121.3" r="3.05"/>
<circle cx="433.6" cy="249.3" r="3.05"/>
<circle cx="536.8" cy="135.5" r="3.05"/>
<circle cx="495.4" cy="197.9" r="3.05"/>
<circle cx="506.6" cy="178.6" r="3.05"/>
<circle cx="466.3" cy="219.3" r="3.05"/>
<circle cx="451.9" cy="229.3" r="3.05"/>
<circle cx="493.7" cy="195.3" r="3.05"/>
<circle cx="456.3" cy="215.5" r="3.05"/>
<circle cx="618.6" cy="101.0" r="3.05"/>
<circle cx="602.9" cy="80.9" r="3.05"/>
<circle cx="479.9" cy="220.8" r="3.05"/>
<circle cx="519.6" cy="188.7" r="3.05"/>
<circle cx="467.9" cy="203.4" r="3.05"/>
<circle cx="645.4" cy="112.9" r="3.05"/>
<circle cx="571.0" cy="115.6" r="3.05"/>
<circle cx="494.6" cy="201.6" r="3.05"/>
<circle cx="518.1" cy="202.7" r="3.05"/>
<circle cx="545.1" cy="162.2" r="3.05"/>
<circle cx="448.0" cy="240.9" r="3.05"/>
<circle cx="532.9" cy="173.2" r="3.05"/>
<circle cx="436.5" cy="251.4" r="3.05"/>
<circle cx="566.1" cy="124.7" r="3.05"/>
<circle cx="455.2" cy="230.2" r="3.05"/>
<circle cx="485.4" cy="204.6" r="3.05"/>
<circle cx="575.1" cy="104.7" r="3.05"/>
<circle cx="575.1" cy="110.5" r="3.05"/>
<circle cx="492.4" cy="183.4" r="3.05"/>
<circle cx="461.6" cy="222.6" r="3.05"/>
<circle cx="487.1" cy="221.0" r="3.05"/>
<circle cx="439.0" cy="251.0" r="3.05"/>
<circle cx="473.1" cy="232.0" r="3.05"/>
<circle cx="548.0" cy="124.3" r="3.05"/>
<circle cx="565.5" cy="125.2" r="3.05"/>
<circle cx="438.9" cy="232.3" r="3.05"/>
<circle cx="460.0" cy="219.4" r="3.05"/>
<circle cx="578.2" cy="148.8" r="3.05"/>
<circle cx="521.2" cy="171.5" r="3.05"/>
<circle cx="518.3" cy="181.2" r="3.05"/>
<circle cx="477.9" cy="212.4" r="3.05"/>
<circle cx="490.1" cy="207.2" r="3.05"/>
<circle cx="514.6" cy="130.4" r="3.05"/>
<circle cx="569.2" cy="121.7" r="3.05"/>
<circle cx="533.7" cy="146.4" r="3.05"/>
<circle cx="444.7" cy="234.8" r="3.05"/>
<circle cx="463.6" cy="220.9" r="3.05"/>
<circle cx="544.7" cy="150.0" r="3.05"/>
<circle cx="492.7" cy="196.5" r="3.05"/>
<circle cx="565.1" cy="172.5" r="3.05"/>
<circle cx="538.6" cy="138.9" r="3.05"/>
<circle cx="506.0" cy="179.6" r="3.05"/>
<circle cx="469.8" cy="225.1" r="3.05"/>
<circle cx="587.8" cy="75.8" r="3.05"/>
<circle cx="564.6" cy="148.6" r="3.05"/>
<circle cx="492.7" cy="210.8" r="3.05"/>
<circle cx="454.0" cy="227.7" r="3.05"/>
<circle cx="446.5" cy="244.3" r="3.05"/>
<circle cx="475.0" cy="223.9" r="3.05"/>
<circle cx="546.4" cy="146.1" r="3.05"/>
<circle cx="465.9" cy="209.9" r="3.05"/>
<circle cx="583.2" cy="114.0" r="3.05"/>
<circle cx="537.6" cy="135.7" r="3.05"/>
<circle cx="477.0" cy="203.6" r="3.05"/>
<circle cx="515.0" cy="155.6" r="3.05"/>
<circle cx="497.2" cy="189.9" r="3.05"/>
<circle cx="566.1" cy="173.2" r="3.05"/>
<circle cx="520.1" cy="169.1" r="3.05"/>
<circle cx="474.4" cy="218.3" r="3.05"/>
<circle cx="506.7" cy="189.3" r="3.05"/>
<circle cx="445.9" cy="242.9" r="3.05"/>
<circle cx="500.5" cy="192.1" r="3.05"/>
<circle cx="457.0" cy="231.6" r="3.05"/>
<circle cx="452.5" cy="227.6" r="3.05"/>
<circle cx="558.9" cy="142.8" r="3.05"/>
<circle cx="453.5" cy="218.2" r="3.05"/>
<circle cx="604.5" cy="92.5" r="3.05"/>
<circle cx="514.5" cy="205.4" r="3.05"/>
<circle cx="489.9" cy="224.4" r="3.05"/>
<circle cx="487.4" cy="198.0" r="3.05"/>
<circle cx="484.7" cy="200.9" r="3.05"/>
<circle cx="463.0" cy="233.8" r="3.05"/>
<circle cx="458.0" cy="231.2" r="3.05"/>
<circle cx="454.6" cy="237.0" r="3.05"/>
<circle cx="524.1" cy="176.9" r="3.05"/>
<circle cx="456.6" cy="234.3" r="3.05"/>
<circle cx="526.8" cy="192.3" r="3.05"/>
<circle cx="581.0" cy="94.9" r="3.05"/>
<circle cx="569.1" cy="107.9" r="3.05"/>
<circle cx="584.2" cy="99.3" r="3.05"/>
<circle cx="492.4" cy="198.3" r="3.05"/>
<circle cx="494.8" cy="199.5" r="3.05"/>
<circle cx="482.5" cy="223.8" r="3.05"/>
<circle cx="443.7" cy="231.4" r="3.05"/>
<circle cx="461.7" cy="227.6" r="3.05"/>
<circle cx="484.9" cy="219.4" r="3.05"/>
<circle cx="535.9" cy="139.2" r="3.05"/>
<circle cx="555.7" cy="138.3" r="3.05"/>
<circle cx="568.4" cy="164.1" r="3.05"/>
<circle cx="495.3" cy="199.2" r="3.05"/>
<circle cx="468.2" cy="202.6" r="3.05"/>
<circle cx="602.5" cy="124.1" r="3.05"/>
<circle cx="443.5" cy="239.0" r="3.05"/>
<circle cx="558.2" cy="117.5" r="3.05"/>
<circle cx="495.7" cy="201.4" r="3.05"/>
<circle cx="520.8" cy="157.2" r="3.05"/>
<circle cx="477.2" cy="217.3" r="3.05"/>
<circle cx="482.6" cy="201.3" r="3.05"/>
<circle cx="472.0" cy="210.4" r="3.05"/>
<circle cx="474.3" cy="206.7" r="3.05"/>
<circle cx="456.3" cy="229.9" r="3.05"/>
<circle cx="492.2" cy="192.0" r="3.05"/>
<circle cx="508.4" cy="185.3" r="3.05"/>
<circle cx="535.7" cy="186.2" r="3.05"/>
<circle cx="548.8" cy="104.1" r="3.05"/>
<circle cx="449.1" cy="238.5" r="3.05"/>
<circle cx="567.7" cy="127.7" r="3.05"/>
<circle cx="547.6" cy="132.4" r="3.05"/>
<circle cx="458.5" cy="220.7" r="3.05"/>
<circle cx="603.5" cy="90.2" r="3.05"/>
<circle cx="493.8" cy="189.8" r="3.05"/>
<circle cx="476.3" cy="235.5" r="3.05"/>
<circle cx="570.5" cy="115.1" r="3.05"/>
<circle cx="595.9" cy="81.1" r="3.05"/>
<circle cx="557.2" cy="141.0" r="3.05"/>
<circle cx="474.7" cy="206.1" r="3.05"/>
<circle cx="535.4" cy="147.0" r="3.05"/>
<circle cx="525.1" cy="147.7" r="3.05"/>
<circle cx="592.4" cy="82.1" r="3.05"/>
<circle cx="528.8" cy="182.5" r="3.05"/>
<circle cx="479.2" cy="210.0" r="3.05"/>
<circle cx="553.5" cy="122.2" r="3.05"/>
<circle cx="536.3" cy="156.1" r="3.05"/>
<circle cx="520.8" cy="170.5" r="3.05"/>
<circle cx="594.1" cy="91.9" r="3.05"/>
<circle cx="472.0" cy="220.1" r="3.05"/>
<circle cx="501.9" cy="201.2" r="3.05"/>
<circle cx="530.9" cy="150.7" r="3.05"/>
<circle cx="597.1" cy="117.8" r="3.05"/>
<circle cx="457.9" cy="222.9" r="3.05"/>
<circle cx="467.8" cy="238.6" r="3.05"/>
<circle cx="491.7" cy="203.9" r="3.05"/>
<circle cx="431.4" cy="244.8" r="3.05"/>
<circle cx="445.0" cy="232.4" r="3.05"/>
<circle cx="453.4" cy="231.2" r="3.05"/>
<circle cx="453.7" cy="217.9" r="3.05"/>
<circle cx="540.4" cy="154.4" r="3.05"/>
<circle cx="459.2" cy="224.6" r="3.05"/>
<circle cx="497.8" cy="184.8" r="3.05"/>
<circle cx="522.2" cy="143.9" r="3.05"/>
<circle cx="477.0" cy="202.2" r="3.05"/>
<circle cx="637.5" cy="94.0" r="3.05"/>
<circle cx="536.0" cy="165.5" r="3.05"/>
<circle cx="485.2" cy="219.1" r="3.05"/>
<circle cx="549.8" cy="142.9" r="3.05"/>
<circle cx="534.5" cy="188.8" r="3.05"/>
<circle cx="469.2" cy="208.1" r="3.05"/>
<circle cx="539.0" cy="168.9" r="3.05"/>
<circle cx="536.7" cy="127.6" r="3.05"/>
<circle cx="451.7" cy="225.3" r="3.05"/>
<circle cx="550.3" cy="143.4" r="3.05"/>
<circle cx="562.0" cy="154.6" r="3.05"/>
<circle cx="566.7" cy="109.0" r="3.05"/>
<circle cx="560.3" cy="115.5" r="3.05"/>
<circle cx="460.5" cy="221.4" r="3.05"/>
<circle cx="594.3" cy="97.6" r="3.05"/>
<circle cx="456.6" cy="225.8" r="3.05"/>
<circle cx="475.9" cy="235.5" r="3.05"/>
<circle cx="453.8" cy="235.3" r="3.05"/>
<circle cx="453.7" cy="243.0" r="3.05"/>
<circle cx="550.1" cy="146.3" r="3.05"/>
<circle cx="512.0" cy="188.4" r="3.05"/>
<circle cx="503.8" cy="178.0" r="3.05"/>
<circle cx="528.4" cy="184.3" r="3.05"/>
<circle cx="551.5" cy="161.0" r="3.05"/>
<circle cx="496.4" cy="203.0" r="3.05"/>
<circle cx="488.9" cy="197.9" r="3.05"/>
<circle cx="469.6" cy="223.2" r="3.05"/>
<circle cx="508.5" cy="190.6" r="3.05"/>
<circle cx="548.6" cy="139.5" r="3.05"/>
<circle cx="460.5" cy="230.9" r="3.05"/>
<circle cx="476.5" cy="221.2" r="3.05"/>
<circle cx="634.4" cy="72.0" r="3.05"/>
<circle cx="524.4" cy="158.1" r="3.05"/>
<circle cx="449.4" cy="240.3" r="3.05"/>
<circle cx="529.9" cy="177.2" r="3.05"/>
<circle cx="509.4" cy="185.0" r="3.05"/>
<circle cx="458.1" cy="238.1" r="3.05"/>
<circle cx="495.6" cy="187.1" r="3.05"/>
<circle cx="458.1" cy="193.3" r="3.05"/>
<circle cx="554.7" cy="145.8" r="3.05"/>
<circle cx="558.1" cy="139.3" r="3.05"/>
<circle cx="490.4" cy="205.2" r="3.05"/>
<circle cx="583.4" cy="101.6" r="3.05"/>
<circle cx="499.5" cy="180.5" r="3.05"/>
<circle cx="493.0" cy="183.6" r="3.05"/>
<circle cx="444.6" cy="240.2" r="3.05"/>
<circle cx="602.1" cy="106.9" r="3.05"/>
<circle cx="459.4" cy="222.3" r="3.05"/>
<circle cx="500.9" cy="192.7" r="3.05"/>
<circle cx="510.4" cy="190.3" r="3.05"/>
<circle cx="489.7" cy="191.0" r="3.05"/>
<circle cx="469.2" cy="234.5" r="3.05"/>
<circle cx="559.9" cy="151.2" r="3.05"/>
<circle cx="551.4" cy="184.3" r="3.05"/>
<circle cx="529.7" cy="117.8" r="3.05"/>
<circle cx="444.1" cy="245.8" r="3.05"/>
<circle cx="495.9" cy="174.5" r="3.05"/>
<circle cx="456.2" cy="231.4" r="3.05"/>
<circle cx="536.5" cy="156.4" r="3.05"/>
<circle cx="516.8" cy="164.7" r="3.05"/>
<circle cx="561.7" cy="129.9" r="3.05"/>
<circle cx="568.9" cy="120.5" r="3.05"/>
<circle cx="438.8" cy="239.6" r="3.05"/>
<circle cx="564.1" cy="133.3" r="3.05"/>
<circle cx="527.1" cy="155.1" r="3.05"/>
<circle cx="494.4" cy="184.5" r="3.05"/>
<circle cx="582.2" cy="127.2" r="3.05"/>
<circle cx="440.3" cy="245.3" r="3.05"/>
<circle cx="597.1" cy="140.9" r="3.05"/>
<circle cx="540.5" cy="160.5" r="3.05"/>
<circle cx="581.0" cy="132.9" r="3.05"/>
<circle cx="520.5" cy="162.6" r="3.05"/>
<circle cx="459.8" cy="216.1" r="3.05"/>
<circle cx="615.5" cy="88.7" r="3.05"/>
<circle cx="497.0" cy="191.9" r="3.05"/>
<circle cx="455.8" cy="223.1" r="3.05"/>
<circle cx="511.8" cy="187.5" r="3.05"/>
<circle cx="472.8" cy="223.0" r="3.05"/>
<circle cx="502.5" cy="191.2" r="3.05"/>
<circle cx="525.8" cy="181.9" r="3.05"/>
<circle cx="524.1" cy="169.3" r="3.05"/>
<circle cx="557.3" cy="180.7" r="3.05"/>
<circle cx="495.0" cy="155.0" r="3.05"/>
<circle cx="439.1" cy="244.5" r="3.05"/>
<circle cx="467.8" cy="213.6" r="3.05"/>
<circle cx="510.1" cy="188.7" r="3.05"/>
<circle cx="543.6" cy="189.7" r="3.05"/>
<circle cx="535.5" cy="160.9" r="3.05"/>
<circle cx="561.2" cy="156.1" r="3.05"/>
<circle cx="478.5" cy="210.9" r="3.05"/>
<circle cx="534.2" cy="156.6" r="3.05"/>
<circle cx="464.6" cy="217.2" r="3.05"/>
<circle cx="529.0" cy="153.1" r="3.05"/>
<circle cx="488.7" cy="206.9" r="3.05"/>
<circle cx="577.1" cy="142.3" r="3.05"/>
<circle cx="463.7" cy="229.5" r="3.05"/>
<circle cx="552.2" cy="132.5" r="3.05"/>
<circle cx="488.8" cy="193.6" r="3.05"/>
<circle cx="465.7" cy="231.8" r="3.05"/>
<circle cx="591.5" cy="134.0" r="3.05"/>
<circle cx="546.3" cy="134.5" r="3.05"/>
<circle cx="474.0" cy="227.3" r="3.05"/>
<circle cx="452.2" cy="229.4" r="3.05"/>
<circle cx="444.4" cy="249.4" r="3.05"/>
<circle cx="450.3" cy="240.8" r="3.05"/>
<circle cx="464.6" cy="222.5" r="3.05"/>
<circle cx="460.6" cy="225.6" r="3.05"/>
<circle cx="510.1" cy="188.0" r="3.05"/>
<circle cx="517.9" cy="176.9" r="3.05"/>
<circle cx="504.9" cy="177.1" r="3.05"/>
<circle cx="449.7" cy="236.8" r="3.05"/>
<circle cx="577.8" cy="137.2" r="3.05"/>
<circle cx="550.9" cy="145.4" r="3.05"/>
<circle cx="470.2" cy="223.1" r="3.05"/>
<circle cx="604.3" cy="128.3" r="3.05"/>
<circle cx="560.5" cy="109.3" r="3.05"/>
<circle cx="559.3" cy="160.8" r="3.05"/>
<circle cx="493.7" cy="204.0" r="3.05"/>
<circle cx="495.3" cy="202.4" r="3.05"/>
<circle cx="461.8" cy="237.0" r="3.05"/>
<circle cx="493.2" cy="219.6" r="3.05"/>
<circle cx="488.8" cy="193.3" r="3.05"/>
<circle cx="569.7" cy="169.7" r="3.05"/>
<circle cx="501.7" cy="171.8" r="3.05"/>
<circle cx="481.7" cy="190.7" r="3.05"/>
<circle cx="514.9" cy="201.6" r="3.05"/>
<circle cx="499.2" cy="178.2" r="3.05"/>
<circle cx="487.2" cy="210.9" r="3.05"/>
<circle cx="470.2" cy="212.8" r="3.05"/>
<circle cx="508.6" cy="184.6" r="3.05"/>
<circle cx="580.3" cy="90.3" r="3.05"/>
<circle cx="565.5" cy="146.0" r="3.05"/>
<circle cx="501.6" cy="213.5" r="3.05"/>
<circle cx="487.7" cy="181.4" r="3.05"/>
<circle cx="502.7" cy="180.5" r="3.05"/>
<circle cx="519.3" cy="151.2" r="3.05"/>
<circle cx="500.4" cy="178.7" r="3.05"/>
<circle cx="482.7" cy="207.5" r="3.05"/>
<circle cx="492.5" cy="194.4" r="3.05"/>
<circle cx="491.9" cy="186.5" r="3.05"/>
<circle cx="518.2" cy="175.1" r="3.05"/>
<circle cx="491.6" cy="197.2" r="3.05"/>
<circle cx="437.8" cy="240.3" r="3.05"/>
<circle cx="570.7" cy="120.8" r="3.05"/>
<circle cx="511.4" cy="185.9" r="3.05"/>
<circle cx="438.8" cy="240.6" r="3.05"/>
<circle cx="601.2" cy="129.9" r="3.05"/>
<circle cx="476.3" cy="206.4" r="3.05"/>
<circle cx="566.7" cy="130.7" r="3.05"/>
<circle cx="483.6" cy="213.0" r="3.05"/>
<circle cx="435.8" cy="241.7" r="3.05"/>
<circle cx="576.4" cy="99.9" r="3.05"/>
<circle cx="452.5" cy="224.9" r="3.05"/>
<circle cx="484.6" cy="207.6" r="3.05"/>
<circle cx="443.9" cy="250.1" r="3.05"/>
<circle cx="459.2" cy="228.8" r="3.05"/>
<circle cx="434.0" cy="245.2" r="3.05"/>
<circle cx="452.5" cy="238.5" r="3.05"/>
<circle cx="579.1" cy="123.1" r="3.05"/>
<circle cx="628.7" cy="98.8" r="3.05"/>
<circle cx="459.9" cy="229.9" r="3.05"/>
<circle cx="463.8" cy="226.2" r="3.05"/>
<circle cx="506.7" cy="192.2" r="3.05"/>
<circle cx="496.9" cy="217.9" r="3.05"/>
<circle cx="448.8" cy="232.8" r="3.05"/>
<circle cx="501.7" cy="199.8" r="3.05"/>
<circle cx="441.6" cy="251.3" r="3.05"/>
<circle cx="545.9" cy="179.7" r="3.05"/>
<circle cx="548.9" cy="168.2" r="3.05"/>
<circle cx="459.2" cy="221.9" r="3.05"/>
<circle cx="453.6" cy="194.4" r="3.05"/>
<circle cx="465.7" cy="226.7" r="3.05"/>
<circle cx="476.9" cy="209.3" r="3.05"/>
<circle cx="462.6" cy="223.9" r="3.05"/>
<circle cx="552.8" cy="138.0" r="3.05"/>
<circle cx="550.4" cy="87.7" r="3.05"/>
<circle cx="537.3" cy="149.7" r="3.05"/>
<circle cx="463.0" cy="170.7" r="3.05"/>
<circle cx="496.8" cy="186.5" r="3.05"/>
<circle cx="443.4" cy="243.6" r="3.05"/>
<circle cx="443.8" cy="235.9" r="3.05"/>
<circle cx="454.9" cy="242.2" r="3.05"/>
<circle cx="495.5" cy="173.6" r="3.05"/>
<circle cx="595.7" cy="105.6" r="3.05"/>
<circle cx="480.2" cy="205.5" r="3.05"/>
<circle cx="540.5" cy="147.4" r="3.05"/>
<circle cx="477.2" cy="210.6" r="3.05"/>
<circle cx="493.2" cy="191.8" r="3.05"/>
<circle cx="438.7" cy="249.6" r="3.05"/>
<circle cx="640.0" cy="115.1" r="3.05"/>
<circle cx="438.5" cy="246.8" r="3.05"/>
<circle cx="539.3" cy="134.2" r="3.05"/>
<circle cx="482.2" cy="210.1" r="3.05"/>
<circle cx="460.1" cy="219.5" r="3.05"/>
<circle cx="550.6" cy="145.7" r="3.05"/>
<circle cx="525.6" cy="125.0" r="3.05"/>
<circle cx="594.3" cy="131.1" r="3.05"/>
<circle cx="542.2" cy="154.9" r="3.05"/>
<circle cx="474.7" cy="218.8" r="3.05"/>
<circle cx="583.1" cy="109.9" r="3.05"/>
<circle cx="441.0" cy="242.2" r="3.05"/>
<circle cx="579.8" cy="106.9" r="3.05"/>
<circle cx="556.0" cy="156.3" r="3.05"/>
<circle cx="513.5" cy="168.2" r="3.05"/>
<circle cx="562.3" cy="151.4" r="3.05"/>
<circle cx="482.2" cy="192.7" r="3.05"/>
<circle cx="489.1" cy="204.7" r="3.05"/>
<circle cx="550.7" cy="87.9" r="3.05"/>
<circle cx="513.7" cy="191.6" r="3.05"/>
<circle cx="493.0" cy="192.9" r="3.05"/>
<circle cx="502.3" cy="175.0" r="3.05"/>
<circle cx="509.2" cy="167.9" r="3.05"/>
<circle cx="477.1" cy="214.1" r="3.05"/>
<circle cx="486.9" cy="204.0" r="3.05"/>
<circle cx="504.7" cy="192.1" r="3.05"/>
<circle cx="585.9" cy="127.0" r="3.05"/>
<circle cx="456.1" cy="230.6" r="3.05"/>
<circle cx="498.2" cy="204.9" r="3.05"/>
<circle cx="455.5" cy="225.7" r="3.05"/>
<circle cx="548.7" cy="186.9" r="3.05"/>
<circle cx="547.4" cy="157.8" r="3.05"/>
<circle cx="443.1" cy="237.5" r="3.05"/>
<circle cx="535.3" cy="178.6" r="3.05"/>
<circle cx="473.4" cy="217.1" r="3.05"/>
<circle cx="548.9" cy="157.4" r="3.05"/>
<circle cx="460.4" cy="236.4" r="3.05"/>
<circle cx="463.0" cy="205.9" r="3.05"/>
<circle cx="453.3" cy="235.2" r="3.05"/>
<circle cx="624.3" cy="105.0" r="3.05"/>
<circle cx="507.0" cy="172.6" r="3.05"/>
<circle cx="481.3" cy="219.5" r="3.05"/>
<circle cx="458.0" cy="222.3" r="3.05"/>
<circle cx="552.1" cy="162.8" r="3.05"/>
<circle cx="536.1" cy="183.4" r="3.05"/>
<circle cx="529.1" cy="190.3" r="3.05"/>
<circle cx="463.4" cy="232.6" r="3.05"/>
<circle cx="560.8" cy="132.6" r="3.05"/>
<circle cx="601.7" cy="127.1" r="3.05"/>
<circle cx="516.0" cy="168.2" r="3.05"/>
<circle cx="501.1" cy="193.1" r="3.05"/>
<circle cx="432.7" cy="250.9" r="3.05"/>
<circle cx="640.0" cy="86.2" r="3.05"/>
<circle cx="543.2" cy="163.8" r="3.05"/>
<circle cx="518.4" cy="178.6" r="3.05"/>
<circle cx="563.1" cy="101.4" r="3.05"/>
<circle cx="461.5" cy="216.2" r="3.05"/>
<circle cx="509.6" cy="164.6" r="3.05"/>
<circle cx="497.0" cy="175.0" r="3.05"/>
<circle cx="496.2" cy="187.8" r="3.05"/>
<circle cx="567.5" cy="153.7" r="3.05"/>
<circle cx="463.4" cy="220.7" r="3.05"/>
<circle cx="482.4" cy="209.5" r="3.05"/>
<circle cx="442.0" cy="242.2" r="3.05"/>
<circle cx="549.9" cy="147.2" r="3.05"/>
<circle cx="525.6" cy="157.4" r="3.05"/>
<circle cx="523.4" cy="173.0" r="3.05"/>
<circle cx="436.6" cy="235.2" r="3.05"/>
<circle cx="560.3" cy="129.5" r="3.05"/>
<circle cx="557.9" cy="114.2" r="3.05"/>
<circle cx="480.7" cy="207.0" r="3.05"/>
<circle cx="488.1" cy="208.5" r="3.05"/>
<circle cx="488.4" cy="162.7" r="3.05"/>
<circle cx="572.2" cy="148.2" r="3.05"/>
<circle cx="455.1" cy="243.2" r="3.05"/>
<circle cx="606.5" cy="151.9" r="3.05"/>
<circle cx="551.3" cy="154.7" r="3.05"/>
<circle cx="446.1" cy="237.9" r="3.05"/>
<circle cx="560.5" cy="155.1" r="3.05"/>
<circle cx="464.0" cy="229.2" r="3.05"/>
<circle cx="497.7" cy="170.4" r="3.05"/>
<circle cx="422.6" cy="240.6" r="3.05"/>
<circle cx="522.3" cy="158.8" r="3.05"/>
<circle cx="532.0" cy="151.7" r="3.05"/>
<circle cx="462.5" cy="228.6" r="3.05"/>
<circle cx="511.4" cy="172.9" r="3.05"/>
<circle cx="492.1" cy="192.9" r="3.05"/>
<circle cx="631.2" cy="90.9" r="3.05"/>
<circle cx="554.1" cy="137.0" r="3.05"/>
<circle cx="512.5" cy="205.2" r="3.05"/>
<circle cx="462.1" cy="233.5" r="3.05"/>
<circle cx="500.0" cy="196.6" r="3.05"/>
<circle cx="474.5" cy="234.2" r="3.05"/>
<circle cx="523.2" cy="167.7" r="3.05"/>
<circle cx="461.3" cy="240.8" r="3.05"/>
<circle cx="499.2" cy="194.3" r="3.05"/>
<circle cx="492.2" cy="206.6" r="3.05"/>
<circle cx="469.7" cy="200.4" r="3.05"/>
<circle cx="452.3" cy="227.6" r="3.05"/>
<circle cx="479.4" cy="198.5" r="3.05"/>
<circle cx="512.3" cy="162.4" r="3.05"/>
<circle cx="443.0" cy="234.4" r="3.05"/>
<circle cx="597.0" cy="99.2" r="3.05"/>
<circle cx="498.5" cy="202.0" r="3.05"/>
<circle cx="474.6" cy="216.4" r="3.05"/>
<circle cx="526.7" cy="175.1" r="3.05"/>
<circle cx="571.9" cy="127.8" r="3.05"/>
<circle cx="479.9" cy="211.3" r="3.05"/>
<circle cx="497.1" cy="211.0" r="3.05"/>
<circle cx="456.9" cy="227.3" r="3.05"/>
<circle cx="472.2" cy="219.0" r="3.05"/>
<circle cx="455.8" cy="226.4" r="3.05"/>
<circle cx="485.0" cy="195.6" r="3.05"/>
<circle cx="460.2" cy="228.0" r="3.05"/>
<circle cx="505.1" cy="206.7" r="3.05"/>
<circle cx="448.6" cy="246.6" r="3.05"/>
<circle cx="489.5" cy="203.8" r="3.05"/>
<circle cx="544.8" cy="173.1" r="3.05"/>
<circle cx="467.3" cy="224.8" r="3.05"/>
<circle cx="505.1" cy="197.3" r="3.05"/>
<circle cx="562.0" cy="143.5" r="3.05"/>
<circle cx="592.3" cy="148.8" r="3.05"/>
<circle cx="532.4" cy="173.8" r="3.05"/>
<circle cx="549.6" cy="159.0" r="3.05"/>
<circle cx="467.8" cy="214.5" r="3.05"/>
<circle cx="442.5" cy="241.0" r="3.05"/>
<circle cx="451.0" cy="234.9" r="3.05"/>
<circle cx="551.3" cy="167.5" r="3.05"/>
<circle cx="584.0" cy="90.9" r="3.05"/>
<circle cx="529.4" cy="171.8" r="3.05"/>
<circle cx="572.1" cy="122.6" r="3.05"/>
<circle cx="530.9" cy="191.9" r="3.05"/>
<circle cx="440.9" cy="244.1" r="3.05"/>
<circle cx="458.6" cy="221.4" r="3.05"/>
<circle cx="467.8" cy="223.3" r="3.05"/>
<circle cx="600.2" cy="102.5" r="3.05"/>
<circle cx="491.1" cy="194.6" r="3.05"/>
<circle cx="545.8" cy="170.2" r="3.05"/>
<circle cx="536.6" cy="164.2" r="3.05"/>
<circle cx="442.1" cy="240.8" r="3.05"/>
<circle cx="521.0" cy="182.4" r="3.05"/>
<circle cx="520.5" cy="183.9" r="3.05"/>
<circle cx="443.7" cy="238.5" r="3.05"/>
<circle cx="501.6" cy="191.6" r="3.05"/>
<circle cx="494.6" cy="199.3" r="3.05"/>
<circle cx="488.6" cy="213.3" r="3.05"/>
<circle cx="569.0" cy="151.3" r="3.05"/>
<circle cx="573.4" cy="143.0" r="3.05"/>
<circle cx="445.2" cy="239.4" r="3.05"/>
<circle cx="531.2" cy="186.4" r="3.05"/>
<circle cx="470.0" cy="212.4" r="3.05"/>
<circle cx="514.9" cy="169.2" r="3.05"/>
<circle cx="547.9" cy="167.0" r="3.05"/>
<circle cx="507.4" cy="186.9" r="3.05"/>
<circle cx="587.6" cy="103.4" r="3.05"/>
<circle cx="441.0" cy="249.2" r="3.05"/>
<circle cx="551.5" cy="110.3" r="3.05"/>
<circle cx="534.6" cy="189.4" r="3.05"/>
<circle cx="507.2" cy="183.4" r="3.05"/>
<circle cx="497.3" cy="195.6" r="3.05"/>
<circle cx="484.9" cy="203.9" r="3.05"/>
<circle cx="487.9" cy="210.0" r="3.05"/>
<circle cx="481.3" cy="169.0" r="3.05"/>
<circle cx="457.3" cy="230.4" r="3.05"/>
<circle cx="495.9" cy="191.4" r="3.05"/>
<circle cx="641.3" cy="56.9" r="3.05"/>
<circle cx="440.4" cy="240.6" r="3.05"/>
<circle cx="567.1" cy="130.4" r="3.05"/>
<circle cx="569.1" cy="153.0" r="3.05"/>
<circle cx="531.2" cy="170.0" r="3.05"/>
<circle cx="461.5" cy="228.1" r="3.05"/>
<circle cx="452.5" cy="231.9" r="3.05"/>
<circle cx="514.4" cy="172.9" r="3.05"/>
<circle cx="587.1" cy="106.7" r="3.05"/>
<circle cx="488.5" cy="200.6" r="3.05"/>
<circle cx="475.3" cy="219.2" r="3.05"/>
<circle cx="571.9" cy="150.3" r="3.05"/>
<circle cx="511.6" cy="175.1" r="3.05"/>
<circle cx="485.1" cy="209.6" r="3.05"/>
<circle cx="450.5" cy="176.6" r="3.05"/>
<circle cx="477.2" cy="214.6" r="3.05"/>
<circle cx="564.0" cy="115.0" r="3.05"/>
<circle cx="444.5" cy="237.2" r="3.05"/>
<circle cx="489.2" cy="206.4" r="3.05"/>
<circle cx="505.8" cy="181.5" r="3.05"/>
<circle cx="501.3" cy="153.4" r="3.05"/>
<circle cx="488.0" cy="198.4" r="3.05"/>
<circle cx="622.4" cy="91.8" r="3.05"/>
<circle cx="524.1" cy="184.5" r="3.05"/>
<circle cx="529.3" cy="161.0" r="3.05"/>
<circle cx="479.1" cy="229.4" r="3.05"/>
<circle cx="541.0" cy="177.2" r="3.05"/>
<circle cx="536.9" cy="173.4" r="3.05"/>
<circle cx="614.2" cy="107.2" r="3.05"/>
<circle cx="513.9" cy="171.8" r="3.05"/>
<circle cx="468.7" cy="218.0" r="3.05"/>
<circle cx="469.9" cy="220.6" r="3.05"/>
<circle cx="472.5" cy="216.1" r="3.05"/>
<circle cx="553.7" cy="158.8" r="3.05"/>
<circle cx="463.7" cy="229.6" r="3.05"/>
<circle cx="599.8" cy="134.9" r="3.05"/>
<circle cx="477.6" cy="220.5" r="3.05"/>
<circle cx="475.5" cy="206.4" r="3.05"/>
<circle cx="501.6" cy="192.9" r="3.05"/>
<circle cx="510.2" cy="209.8" r="3.05"/>
<circle cx="525.4" cy="158.5" r="3.05"/>
<circle cx="463.6" cy="222.6" r="3.05"/>
<circle cx="492.5" cy="200.6" r="3.05"/>
<circle cx="443.7" cy="236.8" r="3.05"/>
<circle cx="426.5" cy="243.3" r="3.05"/>
<circle cx="454.3" cy="219.6" r="3.05"/>
<circle cx="564.5" cy="95.6" r="3.05"/>
<circle cx="506.1" cy="177.2" r="3.05"/>
<circle cx="448.7" cy="236.2" r="3.05"/>
<circle cx="609.8" cy="107.2" r="3.05"/>
<circle cx="583.6" cy="103.2" r="3.05"/>
<circle cx="607.6" cy="90.9" r="3.05"/>
<circle cx="449.8" cy="235.8" r="3.05"/>
<circle cx="480.9" cy="198.6" r="3.05"/>
<circle cx="476.1" cy="210.3" r="3.05"/>
<circle cx="524.4" cy="170.0" r="3.05"/>
<circle cx="529.2" cy="161.2" r="3.05"/>
<circle cx="513.1" cy="169.0" r="3.05"/>
<circle cx="472.6" cy="224.0" r="3.05"/>
<circle cx="530.2" cy="172.9" r="3.05"/>
<circle cx="452.2" cy="232.5" r="3.05"/>
<circle cx="565.6" cy="178.0" r="3.05"/>
<circle cx="511.7" cy="192.7" r="3.05"/>
<circle cx="598.7" cy="113.6" r="3.05"/>
<circle cx="585.5" cy="119.0" r="3.05"/>
<circle cx="474.3" cy="203.2" r="3.05"/>
<circle cx="474.9" cy="206.4" r="3.05"/>
<circle cx="501.9" cy="213.8" r="3.05"/>
<circle cx="447.1" cy="224.1" r="3.05"/>
<circle cx="595.5" cy="131.5" r="3.05"/>
<circle cx="450.3" cy="238.7" r="3.05"/>
<circle cx="551.1" cy="130.4" r="3.05"/>
<circle cx="560.3" cy="145.1" r="3.05"/>
<circle cx="463.3" cy="224.6" r="3.05"/>
<circle cx="569.0" cy="166.6" r="3.05"/>
<circle cx="531.6" cy="159.3" r="3.05"/>
<circle cx="463.4" cy="233.5" r="3.05"/>
<circle cx="569.3" cy="124.7" r="3.05"/>
<circle cx="518.0" cy="177.9" r="3.05"/>
<circle cx="456.0" cy="227.4" r="3.05"/>
<circle cx="488.8" cy="189.0" r="3.05"/>
<circle cx="443.9" cy="238.0" r="3.05"/>
<circle cx="469.4" cy="223.1" r="3.05"/>
<circle cx="528.2" cy="171.4" r="3.05"/>
<circle cx="450.0" cy="245.2" r="3.05"/>
<circle cx="449.9" cy="228.4" r="3.05"/>
<circle cx="450.0" cy="237.3" r="3.05"/>
<circle cx="523.7" cy="165.2" r="3.05"/>
<circle cx="440.5" cy="244.0" r="3.05"/>
<circle cx="503.4" cy="197.6" r="3.05"/>
<circle cx="539.3" cy="143.5" r="3.05"/>
<circle cx="570.4" cy="120.2" r="3.05"/>
<circle cx="459.3" cy="224.4" r="3.05"/>
<circle cx="471.2" cy="220.8" r="3.05"/>
<circle cx="502.0" cy="186.5" r="3.05"/>
<circle cx="542.7" cy="164.6" r="3.05"/>
<circle cx="469.7" cy="219.4" r="3.05"/>
<circle cx="480.2" cy="209.7" r="3.05"/>
<circle cx="479.9" cy="209.2" r="3.05"/>
<circle cx="524.7" cy="196.7" r="3.05"/>
<circle cx="485.4" cy="213.6" r="3.05"/>
<circle cx="601.3" cy="94.0" r="3.05"/>
<circle cx="536.5" cy="174.6" r="3.05"/>
<circle cx="469.4" cy="204.0" r="3.05"/>
<circle cx="547.1" cy="144.9" r="3.05"/>
<circle cx="542.8" cy="162.4" r="3.05"/>
<circle cx="547.0" cy="143.6" r="3.05"/>
<circle cx="471.5" cy="219.0" r="3.05"/>
<circle cx="471.6" cy="215.6" r="3.05"/>
<circle cx="473.8" cy="216.4" r="3.05"/>
<circle cx="468.3" cy="222.7" r="3.05"/>
<circle cx="536.7" cy="140.7" r="3.05"/>
<circle cx="440.7" cy="236.1" r="3.05"/>
<circle cx="554.8" cy="113.5" r="3.05"/>
<circle cx="473.0" cy="225.9" r="3.05"/>
<circle cx="434.7" cy="251.9" r="3.05"/>
<circle cx="479.3" cy="210.8" r="3.05"/>
<circle cx="567.9" cy="172.5" r="3.05"/>
<circle cx="503.6" cy="184.8" r="3.05"/>
<circle cx="563.7" cy="125.9" r="3.05"/>
<circle cx="486.6" cy="199.6" r="3.05"/>
<circle cx="473.8" cy="208.0" r="3.05"/>
<circle cx="511.2" cy="186.4" r="3.05"/>
<circle cx="562.9" cy="104.9" r="3.05"/>
<circle cx="527.4" cy="170.4" r="3.05"/>
<circle cx="569.4" cy="126.2" r="3.05"/>
<circle cx="451.3" cy="231.7" r="3.05"/>
<circle cx="509.4" cy="195.5" r="3.05"/>
<circle cx="500.3" cy="173.0" r="3.05"/>
<circle cx="502.1" cy="190.1" r="3.05"/>
<circle cx="485.8" cy="203.7" r="3.05"/>
<circle cx="458.1" cy="225.4" r="3.05"/>
<circle cx="437.7" cy="238.6" r="3.05"/>
<circle cx="453.5" cy="228.4" r="3.05"/>
<circle cx="540.1" cy="177.3" r="3.05"/>
<circle cx="459.9" cy="229.2" r="3.05"/>
<circle cx="510.5" cy="180.9" r="3.05"/>
<circle cx="475.4" cy="200.7" r="3.05"/>
<circle cx="494.2" cy="196.5" r="3.05"/>
<circle cx="534.5" cy="172.4" r="3.05"/>
<circle cx="458.0" cy="221.8" r="3.05"/>
<circle cx="542.1" cy="145.9" r="3.05"/>
<circle cx="465.0" cy="218.6" r="3.05"/>
<circle cx="459.0" cy="236.0" r="3.05"/>
<circle cx="531.3" cy="152.4" r="3.05"/>
<circle cx="539.0" cy="132.7" r="3.05"/>
<circle cx="475.1" cy="210.0" r="3.05"/>
<circle cx="432.6" cy="245.9" r="3.05"/>
<circle cx="496.0" cy="216.2" r="3.05"/>
<circle cx="442.8" cy="237.2" r="3.05"/>
<circle cx="461.1" cy="238.1" r="3.05"/>
<circle cx="441.2" cy="243.4" r="3.05"/>
<circle cx="504.9" cy="199.4" r="3.05"/>
<circle cx="591.0" cy="117.9" r="3.05"/>
<circle cx="483.0" cy="230.6" r="3.05"/>
<circle cx="544.3" cy="129.2" r="3.05"/>
<circle cx="496.4" cy="198.5" r="3.05"/>
<circle cx="439.4" cy="237.8" r="3.05"/>
<circle cx="468.9" cy="223.0" r="3.05"/>
<circle cx="463.8" cy="226.6" r="3.05"/>
<circle cx="517.7" cy="173.4" r="3.05"/>
<circle cx="456.7" cy="237.5" r="3.05"/>
<circle cx="504.5" cy="194.3" r="3.05"/>
<circle cx="587.8" cy="110.3" r="3.05"/>
<circle cx="467.1" cy="214.5" r="3.05"/>
<circle cx="498.3" cy="211.6" r="3.05"/>
<circle cx="501.9" cy="188.0" r="3.05"/>
<circle cx="538.1" cy="168.0" r="3.05"/>
<circle cx="538.1" cy="119.4" r="3.05"/>
<circle cx="486.5" cy="186.7" r="3.05"/>
<circle cx="517.1" cy="170.6" r="3.05"/>
<circle cx="443.8" cy="237.2" r="3.05"/>
<circle cx="624.3" cy="87.1" r="3.05"/>
<circle cx="545.1" cy="150.2" r="3.05"/>
<circle cx="508.7" cy="182.7" r="3.05"/>
<circle cx="494.0" cy="190.1" r="3.05"/>
<circle cx="481.9" cy="212.1" r="3.05"/>
<circle cx="454.8" cy="234.3" r="3.05"/>
<circle cx="540.2" cy="140.9" r="3.05"/>
<circle cx="505.4" cy="139.8" r="3.05"/>
<circle cx="511.5" cy="184.0" r="3.05"/>
<circle cx="495.1" cy="191.3" r="3.05"/>
<circle cx="470.2" cy="226.2" r="3.05"/>
<circle cx="486.6" cy="189.1" r="3.05"/>
<circle cx="495.4" cy="193.6" r="3.05"/>
<circle cx="496.5" cy="204.3" r="3.05"/>
<circle cx="544.5" cy="134.9" r="3.05"/>
<circle cx="542.9" cy="189.3" r="3.05"/>
<circle cx="486.0" cy="196.2" r="3.05"/>
<circle cx="502.2" cy="193.9" r="3.05"/>
<circle cx="488.5" cy="192.4" r="3.05"/>
<circle cx="475.1" cy="209.3" r="3.05"/>
<circle cx="474.3" cy="222.0" r="3.05"/>
<circle cx="507.9" cy="185.1" r="3.05"/>
<circle cx="549.2" cy="103.7" r="3.05"/>
<circle cx="468.6" cy="228.8" r="3.05"/>
<circle cx="466.8" cy="221.3" r="3.05"/>
<circle cx="461.5" cy="233.9" r="3.05"/>
<circle cx="465.1" cy="208.4" r="3.05"/>
<circle cx="499.8" cy="195.7" r="3.05"/>
<circle cx="560.9" cy="125.1" r="3.05"/>
<circle cx="555.8" cy="138.4" r="3.05"/>
<circle cx="434.8" cy="248.4" r="3.05"/>
<circle cx="483.8" cy="201.1" r="3.05"/>
<circle cx="485.0" cy="210.3" r="3.05"/>
<circle cx="543.1" cy="189.3" r="3.05"/>
<circle cx="468.8" cy="218.3" r="3.05"/>
<circle cx="499.3" cy="190.9" r="3.05"/>
<circle cx="448.8" cy="234.5" r="3.05"/>
<circle cx="475.1" cy="217.8" r="3.05"/>
<circle cx="460.0" cy="218.7" r="3.05"/>
<circle cx="508.9" cy="195.5" r="3.05"/>
<circle cx="449.2" cy="234.1" r="3.05"/>
<circle cx="636.9" cy="67.3" r="3.05"/>
<circle cx="522.1" cy="177.5" r="3.05"/>
<circle cx="528.7" cy="190.9" r="3.05"/>
<circle cx="563.4" cy="128.6" r="3.05"/>
<circle cx="505.4" cy="200.9" r="3.05"/>
<circle cx="491.6" cy="199.1" r="3.05"/>
<circle cx="474.9" cy="206.0" r="3.05"/>
<circle cx="483.0" cy="208.3" r="3.05"/>
<circle cx="456.1" cy="237.4" r="3.05"/>
<circle cx="459.2" cy="221.7" r="3.05"/>
<circle cx="499.6" cy="203.0" r="3.05"/>
<circle cx="479.3" cy="200.7" r="3.05"/>
<circle cx="465.3" cy="230.3" r="3.05"/>
<circle cx="478.1" cy="205.2" r="3.05"/>
<circle cx="495.6" cy="197.4" r="3.05"/>
<circle cx="466.1" cy="219.8" r="3.05"/>
<circle cx="453.0" cy="238.5" r="3.05"/>
<circle cx="458.8" cy="241.5" r="3.05"/>
<circle cx="473.8" cy="232.5" r="3.05"/>
<circle cx="579.4" cy="123.1" r="3.05"/>
<circle cx="475.4" cy="220.1" r="3.05"/>
<circle cx="505.1" cy="208.0" r="3.05"/>
<circle cx="518.0" cy="192.6" r="3.05"/>
<circle cx="535.3" cy="192.2" r="3.05"/>
<circle cx="503.8" cy="193.2" r="3.05"/>
<circle cx="474.5" cy="199.6" r="3.05"/>
<circle cx="448.8" cy="235.6" r="3.05"/>
<circle cx="480.2" cy="196.8" r="3.05"/>
<circle cx="440.9" cy="249.9" r="3.05"/>
<circle cx="509.1" cy="201.5" r="3.05"/>
<circle cx="493.7" cy="200.6" r="3.05"/>
<circle cx="488.2" cy="213.7" r="3.05"/>
<circle cx="576.7" cy="119.8" r="3.05"/>
<circle cx="564.9" cy="144.9" r="3.05"/>
<circle cx="533.2" cy="177.4" r="3.05"/>
<circle cx="523.3" cy="167.8" r="3.05"/>
<circle cx="476.6" cy="202.2" r="3.05"/>
<circle cx="442.6" cy="236.1" r="3.05"/>
<circle cx="443.6" cy="230.2" r="3.05"/>
<circle cx="648.5" cy="90.9" r="3.05"/>
<circle cx="486.7" cy="206.1" r="3.05"/>
<circle cx="489.0" cy="222.4" r="3.05"/>
<circle cx="604.2" cy="86.2" r="3.05"/>
<circle cx="493.0" cy="181.4" r="3.05"/>
<circle cx="551.2" cy="119.3" r="3.05"/>
<circle cx="459.1" cy="231.6" r="3.05"/>
<circle cx="487.1" cy="219.3" r="3.05"/>
<circle cx="635.3" cy="101.3" r="3.05"/>
<circle cx="448.3" cy="238.6" r="3.05"/>
<circle cx="555.3" cy="121.7" r="3.05"/>
<circle cx="466.8" cy="221.5" r="3.05"/>
<circle cx="446.9" cy="232.9" r="3.05"/>
<circle cx="524.6" cy="169.1" r="3.05"/>
<circle cx="480.9" cy="218.4" r="3.05"/>
<circle cx="589.2" cy="162.9" r="3.05"/>
<circle cx="542.8" cy="166.7" r="3.05"/>
<circle cx="484.6" cy="221.3" r="3.05"/>
<circle cx="459.5" cy="223.5" r="3.05"/>
<circle cx="447.8" cy="228.6" r="3.05"/>
<circle cx="585.1" cy="112.6" r="3.05"/>
<circle cx="486.3" cy="198.2" r="3.05"/>
<circle cx="448.6" cy="235.4" r="3.05"/>
<circle cx="454.9" cy="234.7" r="3.05"/>
<circle cx="461.1" cy="233.1" r="3.05"/>
<circle cx="511.0" cy="174.8" r="3.05"/>
<circle cx="462.4" cy="220.3" r="3.05"/>
<circle cx="495.8" cy="174.8" r="3.05"/>
<circle cx="570.0" cy="160.9" r="3.05"/>
<circle cx="575.5" cy="125.5" r="3.05"/>
<circle cx="593.5" cy="141.2" r="3.05"/>
<circle cx="568.4" cy="106.8" r="3.05"/>
<circle cx="520.7" cy="195.7" r="3.05"/>
<circle cx="475.8" cy="218.0" r="3.05"/>
<circle cx="508.6" cy="158.5" r="3.05"/>
<circle cx="452.1" cy="240.4" r="3.05"/>
<circle cx="466.9" cy="236.1" r="3.05"/>
<circle cx="528.5" cy="194.3" r="3.05"/>
<circle cx="438.9" cy="235.6" r="3.05"/>
<circle cx="455.2" cy="225.0" r="3.05"/>
<circle cx="545.2" cy="148.9" r="3.05"/>
<circle cx="572.0" cy="126.0" r="3.05"/>
<circle cx="517.0" cy="163.0" r="3.05"/>
<circle cx="491.8" cy="206.2" r="3.05"/>
<circle cx="486.1" cy="194.7" r="3.05"/>
<circle cx="469.3" cy="216.4" r="3.05"/>
<circle cx="438.6" cy="249.6" r="3.05"/>
<circle cx="521.3" cy="172.0" r="3.05"/>
<circle cx="569.8" cy="170.3" r="3.05"/>
<circle cx="485.1" cy="209.4" r="3.05"/>
<circle cx="465.0" cy="221.4" r="3.05"/>
<circle cx="485.6" cy="198.9" r="3.05"/>
<circle cx="569.2" cy="156.2" r="3.05"/>
<circle cx="502.6" cy="170.6" r="3.05"/>
<circle cx="561.5" cy="124.1" r="3.05"/>
<circle cx="478.8" cy="222.9" r="3.05"/>
<circle cx="528.8" cy="159.6" r="3.05"/>
<circle cx="476.5" cy="212.2" r="3.05"/>
<circle cx="437.4" cy="244.8" r="3.05"/>
<circle cx="480.3" cy="194.0" r="3.05"/>
<circle cx="587.6" cy="155.0" r="3.05"/>
<circle cx="518.7" cy="172.9" r="3.05"/>
<circle cx="467.9" cy="231.6" r="3.05"/>
<circle cx="459.6" cy="228.1" r="3.05"/>
<circle cx="518.6" cy="150.8" r="3.05"/>
<circle cx="442.6" cy="237.7" r="3.05"/>
<circle cx="517.8" cy="186.5" r="3.05"/>
<circle cx="555.3" cy="153.5" r="3.05"/>
<circle cx="508.6" cy="161.6" r="3.05"/>
<circle cx="539.5" cy="151.6" r="3.05"/>
<circle cx="445.8" cy="237.2" r="3.05"/>
<circle cx="493.6" cy="206.3" r="3.05"/>
<circle cx="499.6" cy="192.5" r="3.05"/>
<circle cx="547.9" cy="148.7" r="3.05"/>
<circle cx="516.4" cy="184.7" r="3.05"/>
<circle cx="482.1" cy="221.4" r="3.05"/>
<circle cx="505.0" cy="182.4" r="3.05"/>
<circle cx="524.0" cy="164.9" r="3.05"/>
<circle cx="439.9" cy="244.9" r="3.05"/>
<circle cx="490.7" cy="199.2" r="3.05"/>
<circle cx="545.3" cy="129.9" r="3.05"/>
<circle cx="541.9" cy="182.1" r="3.05"/>
<circle cx="488.4" cy="195.7" r="3.05"/>
<circle cx="527.5" cy="157.1" r="3.05"/>
<circle cx="514.4" cy="176.9" r="3.05"/>
<circle cx="490.4" cy="203.9" r="3.05"/>
<circle cx="460.7" cy="220.7" r="3.05"/>
<circle cx="468.5" cy="218.8" r="3.05"/>
<circle cx="442.5" cy="232.7" r="3.05"/>
<circle cx="468.8" cy="227.7" r="3.05"/>
<circle cx="481.2" cy="213.3" r="3.05"/>
<circle cx="523.9" cy="177.2" r="3.05"/>
<circle cx="448.5" cy="249.4" r="3.05"/>
<circle cx="501.1" cy="206.9" r="3.05"/>
<circle cx="488.5" cy="212.0" r="3.05"/>
<circle cx="441.8" cy="247.5" r="3.05"/>
<circle cx="444.0" cy="237.4" r="3.05"/>
<circle cx="507.0" cy="162.5" r="3.05"/>
<circle cx="481.9" cy="191.2" r="3.05"/>
<circle cx="536.4" cy="178.6" r="3.05"/>
<circle cx="515.6" cy="182.4" r="3.05"/>
<circle cx="579.6" cy="100.7" r="3.05"/>
<circle cx="498.9" cy="190.6" r="3.05"/>
<circle cx="506.2" cy="176.8" r="3.05"/>
<circle cx="474.0" cy="215.6" r="3.05"/>
<circle cx="441.3" cy="236.2" r="3.05"/>
<circle cx="465.3" cy="214.2" r="3.05"/>
<circle cx="514.7" cy="183.1" r="3.05"/>
<circle cx="619.3" cy="135.6" r="3.05"/>
<circle cx="579.4" cy="90.4" r="3.05"/>
<circle cx="528.1" cy="161.5" r="3.05"/>
<circle cx="524.0" cy="162.0" r="3.05"/>
<circle cx="447.4" cy="234.1" r="3.05"/>
<circle cx="494.8" cy="203.4" r="3.05"/>
<circle cx="474.0" cy="211.9" r="3.05"/>
<circle cx="483.2" cy="214.6" r="3.05"/>
<circle cx="515.3" cy="171.7" r="3.05"/>
<circle cx="542.0" cy="136.4" r="3.05"/>
<circle cx="511.5" cy="172.8" r="3.05"/>
<circle cx="481.7" cy="192.4" r="3.05"/>
<circle cx="595.6" cy="100.3" r="3.05"/>
<circle cx="531.9" cy="154.2" r="3.05"/>
<circle cx="460.1" cy="233.8" r="3.05"/>
<circle cx="502.5" cy="207.8" r="3.05"/>
<circle cx="504.2" cy="201.3" r="3.05"/>
<circle cx="515.4" cy="201.2" r="3.05"/>
<circle cx="567.6" cy="114.6" r="3.05"/>
<circle cx="507.2" cy="198.9" r="3.05"/>
<circle cx="489.3" cy="205.6" r="3.05"/>
<circle cx="490.6" cy="199.0" r="3.05"/>
<circle cx="603.0" cy="86.5" r="3.05"/>
<circle cx="462.3" cy="227.5" r="3.05"/>
<circle cx="496.9" cy="192.3" r="3.05"/>
<circle cx="547.3" cy="151.8" r="3.05"/>
<circle cx="557.1" cy="140.8" r="3.05"/>
<circle cx="497.4" cy="192.3" r="3.05"/>
<circle cx="468.2" cy="221.7" r="3.05"/>
<circle cx="476.4" cy="214.1" r="3.05"/>
<circle cx="464.8" cy="234.0" r="3.05"/>
<circle cx="545.0" cy="143.2" r="3.05"/>
<circle cx="597.5" cy="92.1" r="3.05"/>
<circle cx="520.2" cy="178.7" r="3.05"/>
<circle cx="528.1" cy="126.6" r="3.05"/>
<circle cx="540.6" cy="184.8" r="3.05"/>
<circle cx="452.3" cy="238.1" r="3.05"/>
<circle cx="443.4" cy="233.5" r="3.05"/>
<circle cx="525.4" cy="173.2" r="3.05"/>
<circle cx="527.8" cy="169.2" r="3.05"/>
<circle cx="479.4" cy="218.6" r="3.05"/>
<circle cx="595.3" cy="99.1" r="3.05"/>
<circle cx="507.4" cy="210.6" r="3.05"/>
<circle cx="503.1" cy="215.4" r="3.05"/>
<circle cx="477.5" cy="202.4" r="3.05"/>
<circle cx="553.6" cy="149.2" r="3.05"/>
<circle cx="488.4" cy="206.8" r="3.05"/>
<circle cx="546.8" cy="143.0" r="3.05"/>
<circle cx="463.0" cy="223.9" r="3.05"/>
<circle cx="480.6" cy="207.4" r="3.05"/>
<circle cx="470.5" cy="226.4" r="3.05"/>
<circle cx="493.9" cy="197.4" r="3.05"/>
<circle cx="483.2" cy="201.1" r="3.05"/>
<circle cx="452.8" cy="239.4" r="3.05"/>
<circle cx="477.7" cy="213.4" r="3.05"/>
<circle cx="563.3" cy="99.1" r="3.05"/>
<circle cx="514.4" cy="207.9" r="3.05"/>
<circle cx="674.6" cy="82.1" r="3.05"/>
<circle cx="476.2" cy="198.1" r="3.05"/>
<circle cx="492.0" cy="204.1" r="3.05"/>
<circle cx="558.8" cy="136.1" r="3.05"/>
<circle cx="502.1" cy="194.2" r="3.05"/>
<circle cx="448.0" cy="227.4" r="3.05"/>
<circle cx="469.1" cy="214.8" r="3.05"/>
<circle cx="449.4" cy="231.0" r="3.05"/>
<circle cx="470.3" cy="223.4" r="3.05"/>
<circle cx="557.1" cy="138.3" r="3.05"/>
<circle cx="543.3" cy="138.6" r="3.05"/>
<circle cx="460.2" cy="209.0" r="3.05"/>
<circle cx="586.2" cy="107.9" r="3.05"/>
<circle cx="553.2" cy="126.3" r="3.05"/>
<circle cx="435.1" cy="243.9" r="3.05"/>
<circle cx="517.8" cy="161.9" r="3.05"/>
<circle cx="518.2" cy="206.2" r="3.05"/>
<circle cx="458.5" cy="218.5" r="3.05"/>
<circle cx="454.1" cy="236.7" r="3.05"/>
<circle cx="500.9" cy="188.8" r="3.05"/>
<circle cx="523.2" cy="151.7" r="3.05"/>
<circle cx="472.0" cy="216.7" r="3.05"/>
<circle cx="572.0" cy="118.3" r="3.05"/>
<circle cx="453.5" cy="231.5" r="3.05"/>
<circle cx="464.0" cy="214.7" r="3.05"/>
<circle cx="517.4" cy="185.4" r="3.05"/>
<circle cx="551.6" cy="162.5" r="3.05"/>
<circle cx="531.3" cy="162.8" r="3.05"/>
<circle cx="486.7" cy="203.4" r="3.05"/>
<circle cx="469.1" cy="221.4" r="3.05"/>
<circle cx="575.7" cy="160.9" r="3.05"/>
<circle cx="541.5" cy="188.8" r="3.05"/>
<circle cx="469.2" cy="170.7" r="3.05"/>
</g>
<line x1="423.5" y1="265.0" x2="675.0" y2="13.4" stroke="#000" stroke-width="4.3" stroke-dasharray="14.9 5.8"/>
<g clip-path="url(#cb)" fill="#1f77b4" stroke="#0b0b0b" stroke-width="1.0">
<circle cx="604.5" cy="112.9" r="3.05"/>
<circle cx="510.7" cy="157.6" r="3.05"/>
<circle cx="525.9" cy="172.1" r="3.05"/>
<circle cx="501.4" cy="215.7" r="3.05"/>
<circle cx="473.5" cy="224.4" r="3.05"/>
<circle cx="564.9" cy="95.2" r="3.05"/>
<circle cx="446.4" cy="234.9" r="3.05"/>
<circle cx="499.2" cy="197.9" r="3.05"/>
<circle cx="477.5" cy="205.3" r="3.05"/>
<circle cx="479.0" cy="192.1" r="3.05"/>
<circle cx="650.7" cy="127.7" r="3.05"/>
<circle cx="595.7" cy="144.1" r="3.05"/>
<circle cx="602.4" cy="159.1" r="3.05"/>
<circle cx="501.1" cy="191.4" r="3.05"/>
<circle cx="559.1" cy="152.0" r="3.05"/>
<circle cx="457.4" cy="223.8" r="3.05"/>
<circle cx="508.7" cy="184.7" r="3.05"/>
<circle cx="468.0" cy="211.5" r="3.05"/>
<circle cx="490.0" cy="219.7" r="3.05"/>
<circle cx="554.2" cy="154.4" r="3.05"/>
<circle cx="493.9" cy="199.3" r="3.05"/>
<circle cx="457.9" cy="228.0" r="3.05"/>
<circle cx="481.1" cy="202.4" r="3.05"/>
<circle cx="453.3" cy="232.1" r="3.05"/>
<circle cx="468.4" cy="219.3" r="3.05"/>
<circle cx="565.9" cy="162.7" r="3.05"/>
<circle cx="525.1" cy="161.0" r="3.05"/>
<circle cx="487.0" cy="202.5" r="3.05"/>
<circle cx="521.2" cy="180.9" r="3.05"/>
<circle cx="514.1" cy="173.9" r="3.05"/>
<circle cx="523.3" cy="181.4" r="3.05"/>
<circle cx="504.5" cy="187.7" r="3.05"/>
<circle cx="464.6" cy="217.9" r="3.05"/>
<circle cx="526.6" cy="146.0" r="3.05"/>
<circle cx="516.0" cy="197.0" r="3.05"/>
<circle cx="507.4" cy="192.2" r="3.05"/>
<circle cx="469.9" cy="215.7" r="3.05"/>
<circle cx="440.6" cy="236.2" r="3.05"/>
<circle cx="582.9" cy="136.6" r="3.05"/>
<circle cx="522.9" cy="169.2" r="3.05"/>
<circle cx="560.1" cy="127.8" r="3.05"/>
<circle cx="508.1" cy="194.2" r="3.05"/>
<circle cx="480.9" cy="168.1" r="3.05"/>
<circle cx="511.8" cy="180.7" r="3.05"/>
<circle cx="476.7" cy="226.9" r="3.05"/>
<circle cx="477.3" cy="211.4" r="3.05"/>
<circle cx="530.0" cy="157.2" r="3.05"/>
<circle cx="492.8" cy="197.6" r="3.05"/>
<circle cx="469.5" cy="216.5" r="3.05"/>
<circle cx="476.7" cy="205.9" r="3.05"/>
<circle cx="575.8" cy="148.3" r="3.05"/>
<circle cx="481.5" cy="217.9" r="3.05"/>
<circle cx="535.1" cy="151.7" r="3.05"/>
<circle cx="457.5" cy="236.6" r="3.05"/>
<circle cx="482.5" cy="195.5" r="3.05"/>
<circle cx="531.3" cy="168.1" r="3.05"/>
<circle cx="444.5" cy="245.0" r="3.05"/>
<circle cx="523.0" cy="169.1" r="3.05"/>
<circle cx="509.2" cy="183.7" r="3.05"/>
<circle cx="539.9" cy="151.9" r="3.05"/>
<circle cx="442.5" cy="243.6" r="3.05"/>
<circle cx="483.7" cy="185.6" r="3.05"/>
<circle cx="477.7" cy="216.1" r="3.05"/>
<circle cx="589.1" cy="116.9" r="3.05"/>
<circle cx="439.1" cy="241.8" r="3.05"/>
<circle cx="498.6" cy="194.0" r="3.05"/>
<circle cx="536.7" cy="147.9" r="3.05"/>
<circle cx="493.9" cy="208.9" r="3.05"/>
<circle cx="596.6" cy="143.7" r="3.05"/>
</g>
<rect x="65.2" y="6.3" width="270.9" height="270.6" fill="none" stroke="#555" stroke-width="1.3"/>
<rect x="411.7" y="6.3" width="271.3" height="271.3" fill="none" stroke="#555" stroke-width="1.3"/>
<g stroke="#333" stroke-width="1">
<line x1="120.5" x2="120.5" y1="276.9" y2="280.9"/>
<line x1="182.0" x2="182.0" y1="276.9" y2="280.9"/>
<line x1="243.5" x2="243.5" y1="276.9" y2="280.9"/>
<line x1="305.0" x2="305.0" y1="276.9" y2="280.9"/>
<line x1="61.3" x2="65.2" y1="252.2" y2="252.2"/>
<line x1="61.3" x2="65.2" y1="221.4" y2="221.4"/>
<line x1="61.3" x2="65.2" y1="190.7" y2="190.7"/>
<line x1="61.3" x2="65.2" y1="160.0" y2="160.0"/>
<line x1="61.3" x2="65.2" y1="129.2" y2="129.2"/>
<line x1="61.3" x2="65.2" y1="98.5" y2="98.5"/>
<line x1="61.3" x2="65.2" y1="67.8" y2="67.8"/>
<line x1="61.3" x2="65.2" y1="37.0" y2="37.0"/>
<line x1="61.3" x2="65.2" y1="6.3" y2="6.3"/>
<line x1="441.7" x2="441.7" y1="277.6" y2="281.6"/>
<line x1="508.6" x2="508.6" y1="277.6" y2="281.6"/>
<line x1="575.5" x2="575.5" y1="277.6" y2="281.6"/>
<line x1="642.4" x2="642.4" y1="277.6" y2="281.6"/>
<line x1="407.8" x2="411.7" y1="246.8" y2="246.8"/>
<line x1="407.8" x2="411.7" y1="213.3" y2="213.3"/>
<line x1="407.8" x2="411.7" y1="179.9" y2="179.9"/>
<line x1="407.8" x2="411.7" y1="146.4" y2="146.4"/>
<line x1="407.8" x2="411.7" y1="113.0" y2="113.0"/>
<line x1="407.8" x2="411.7" y1="79.5" y2="79.5"/>
<line x1="407.8" x2="411.7" y1="46.0" y2="46.0"/>
<line x1="407.8" x2="411.7" y1="12.6" y2="12.6"/>
</g>
<g font-family="'DejaVu Sans', sans-serif" font-size="13.2" fill="#000">
<text x="120.5" y="294.2" text-anchor="middle">0</text>
<text x="182.0" y="294.2" text-anchor="middle">1</text>
<text x="243.5" y="294.2" text-anchor="middle">2</text>
<text x="305.0" y="294.2" text-anchor="middle">3</text>
<text x="56.9" y="258.2" text-anchor="end">−0.5</text>
<text x="56.9" y="227.4" text-anchor="end">0.0</text>
<text x="56.9" y="196.7" text-anchor="end">0.5</text>
<text x="56.9" y="166.0" text-anchor="end">1.0</text>
<text x="56.9" y="135.2" text-anchor="end">1.5</text>
<text x="56.9" y="104.5" text-anchor="end">2.0</text>
<text x="56.9" y="73.8" text-anchor="end">2.5</text>
<text x="56.9" y="43.0" text-anchor="end">3.0</text>
<text x="56.9" y="12.3" text-anchor="end">3.5</text>
<text x="441.7" y="295.1" text-anchor="middle">0.4</text>
<text x="508.6" y="295.1" text-anchor="middle">0.6</text>
<text x="575.5" y="295.1" text-anchor="middle">0.8</text>
<text x="642.4" y="295.1" text-anchor="middle">1.0</text>
<text x="403.8" y="252.8" text-anchor="end">0.4</text>
<text x="403.8" y="219.3" text-anchor="end">0.5</text>
<text x="403.8" y="185.9" text-anchor="end">0.6</text>
<text x="403.8" y="152.4" text-anchor="end">0.7</text>
<text x="403.8" y="119.0" text-anchor="end">0.8</text>
<text x="403.8" y="85.5" text-anchor="end">0.9</text>
<text x="403.8" y="52.0" text-anchor="end">1.0</text>
<text x="403.8" y="18.6" text-anchor="end">1.1</text>
</g>
<g font-family="'DejaVu Sans', sans-serif" font-size="15.6" fill="#000">
<text x="200.6" y="314.0" text-anchor="middle">log<tspan font-size="11.3" dy="2.6" dx="1">10</tspan><tspan dy="-2.6">(</tspan><tspan font-style="italic">ε</tspan><tspan font-style="italic" font-size="10.8" dy="2.6">ion</tspan><tspan dy="-2.6">) from DFPT</tspan></text>
<text x="547.3" y="314.0" text-anchor="middle">log<tspan font-size="11.3" dy="2.6" dx="1">10</tspan><tspan dy="-2.6">(</tspan><tspan font-style="italic">ε</tspan><tspan font-style="italic" font-size="10.8" dy="2.6">el</tspan><tspan dy="-2.6">) from DFPT</tspan></text>
<text transform="translate(15.9,141.7) rotate(-90)" text-anchor="middle">log<tspan font-size="11.3" dy="2.6" dx="1">10</tspan><tspan dy="-2.6">(</tspan><tspan font-style="italic">ε</tspan><tspan font-style="italic" font-size="10.8" dy="2.6">ion</tspan><tspan dy="-2.6">) from RF model</tspan></text>
<text transform="translate(373.9,142.2) rotate(-90)" text-anchor="middle">log<tspan font-size="11.3" dy="2.6" dx="1">10</tspan><tspan dy="-2.6">(</tspan><tspan font-style="italic">ε</tspan><tspan font-style="italic" font-size="10.8" dy="2.6">el</tspan><tspan dy="-2.6">) from RF model</tspan></text>
</g>
<g font-family="'DejaVu Sans', sans-serif" font-size="17.5" fill="#000">
<text x="76.3" y="30.9">n = 2527</text>
<text x="423.9" y="28.9">n = 2527</text>
<text x="181.5" y="242.5">RMSE = 0.174</text>
<text x="181.5" y="261.2">R<tspan font-size="12" dy="-6">2</tspan><tspan dy="6"> = 0.887</tspan></text>
<text x="534.8" y="247.9">RMSE = 0.0324</text>
<text x="534.8" y="265.9">R<tspan font-size="12" dy="-6">2</tspan><tspan dy="6"> = 0.92</tspan></text>
</g>
<g font-family="'Liberation Sans', sans-serif" font-size="19.4" fill="#000">
<text x="0.4" y="15.6">(a)</text><text x="349.9" y="15.6">(b)</text>
</g>
</svg></body></html>
